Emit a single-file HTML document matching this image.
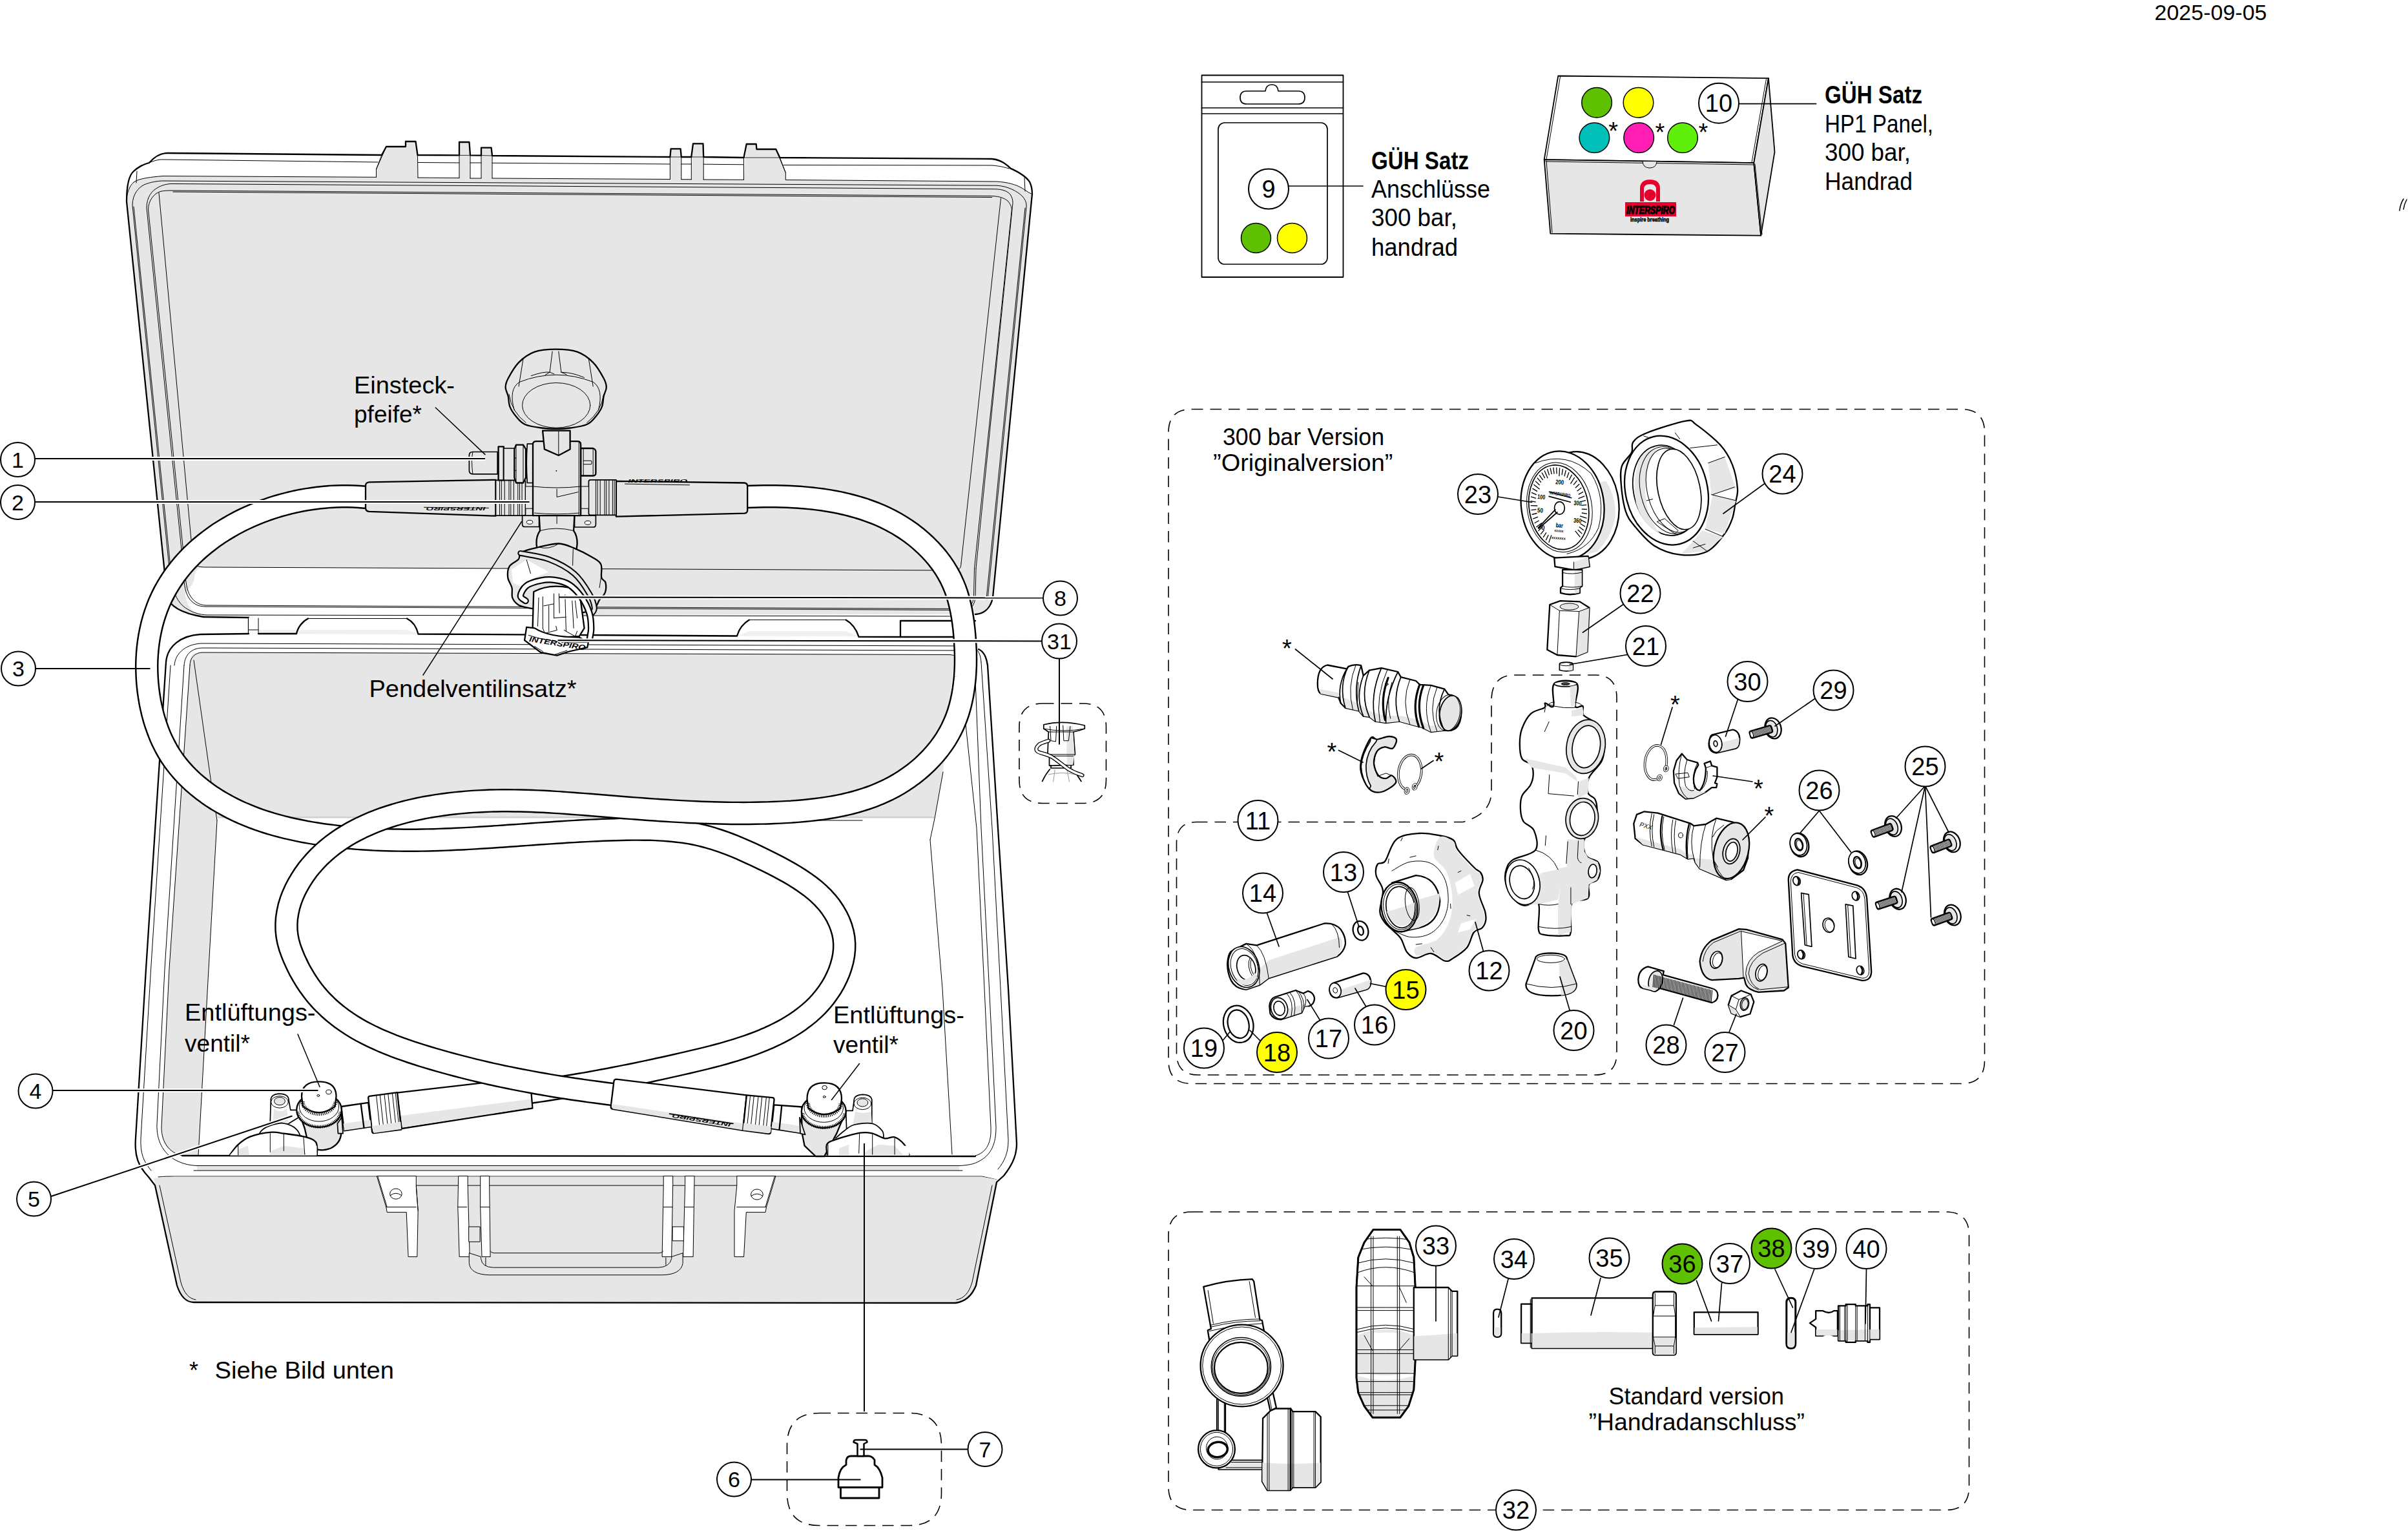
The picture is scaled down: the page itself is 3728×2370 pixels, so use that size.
<!DOCTYPE html>
<html lang="de"><head><meta charset="utf-8"><title>Ersatzteile</title>
<style>
html,body{margin:0;padding:0;background:#fff}
svg{display:block}
text{font-family:"Liberation Sans",sans-serif;fill:#000}
.k{fill:none;stroke:#000;stroke-width:2.3;stroke-linejoin:round;stroke-linecap:round}
.m{fill:none;stroke:#000;stroke-width:1.7;stroke-linejoin:round;stroke-linecap:round}
.t{fill:none;stroke:#000;stroke-width:1;stroke-linejoin:round;stroke-linecap:round}
.g{fill:#e6e6e6}
.w{fill:#fff}
.kg{fill:#e6e6e6;stroke:#000;stroke-width:2.3;stroke-linejoin:round}
.kw{fill:#fff;stroke:#000;stroke-width:2.3;stroke-linejoin:round}
.mg{fill:#e6e6e6;stroke:#000;stroke-width:1.7;stroke-linejoin:round}
.mw{fill:#fff;stroke:#000;stroke-width:1.7;stroke-linejoin:round}
.tg{fill:#e6e6e6;stroke:#000;stroke-width:1;stroke-linejoin:round}
.tw{fill:#fff;stroke:#000;stroke-width:1;stroke-linejoin:round}
.d{fill:none;stroke:#000;stroke-width:1.6;stroke-dasharray:17.5 11}
.lh{fill:none;stroke:#fff;stroke-width:6;stroke-linecap:butt}
.ll{fill:none;stroke:#000;stroke-width:2;stroke-linecap:butt}
.cc{fill:#fff;stroke:#000;stroke-width:2}
.cn{font-size:35px;text-anchor:middle}
</style></head><body>
<svg width="3728" height="2370" viewBox="0 0 3728 2370">
<rect width="3728" height="2370" fill="#fff"/>
<g id="case">
<!-- ===== LID ===== -->
<path class="w" d="M258.6,922 L196,312 C196,290 199,272 207,265 C212,260 222,254 231,252 C238,244 248,237 259,237 L591,240 L598,227 L628,227 L628,219 L643.5,219 L646.5,240 L711,240.4 L711,220 L726.5,220 L728,240.4 L745,240.6 L745,228.7 L760.6,228.7 L762,241 L1037.4,243 L1038.6,230.4 L1053.6,230.4 L1054.8,243 L1070.3,243 L1073,222.4 L1088.5,222.4 L1089.2,243 L1151.5,244 L1155.7,223 L1170.7,223 L1171.4,231 L1201.3,231 L1207.3,244 L1535.8,246 C1548,247 1558,254 1564.4,260.6 C1572,264 1588,272 1594.3,282 C1597,288 1598,294 1598,300 L1537,925 C1534,940 1525,950 1510,951 L1510,961 L385,956 L315,955 C285,950 262,940 258.6,922 Z"/>
<!-- lid gray -->
<path class="g" d="M258.6,922 L196,312 C196,300 200,288 207,282 C215,276 235,274 252,272.5 L582.5,274.3 L582.5,262 L598,227 L628,227 L628,219 L643.5,219 L646.5,240 L647,275 L711,275.5 L711,220 L726.5,220 L728,276 L745,276 L745,228.7 L760.6,228.7 L762,276 L1037.4,277.5 L1038.6,230.4 L1053.6,230.4 L1054.8,277.7 L1070.3,277.8 L1073,222.4 L1088.5,222.4 L1089.2,278 L1151.5,278.3 L1155.7,223 L1170.7,223 L1171.4,231 L1201.3,231 L1216.3,267.3 L1216.3,278.5 L1543.2,281 C1560,282 1573,286 1580,290 C1588,294 1593,299.7 1598,300 L1537,925 C1534,940 1525,950 1510,951 L315,953 C285,950 262,940 258.6,922 Z"/>
<!-- white band bottom-left of lid -->
<path class="w" d="M301,895 C301,882 308,878 318,878 L860,880.5 L860,953 L315,952 C295,948 288,935 287,920 C290,912 300,905 301,895 Z"/>
<path class="w" d="M318,939 L1500,945 L1500,951 L318,953 Z" opacity="0"/>
<!-- lid thin lines -->
<path class="t" d="M231,252 C240,248 246,247 252,247 L585,251 M212,265 L211,283 M582.5,274.3 L582.5,262 L598,227 M591,240 L582.5,262"/>
<path class="t" d="M647,275 L646.5,240 M711,275.5 L711,240 M728,276 L728,240 M745,276 L745,240 M762,276 L762,241 M1037.4,277.5 L1037.4,243 M1054.8,277.7 L1054.8,243 M1070.3,277.8 L1070.3,243 M1089.2,278 L1089.2,243 M1151.5,278.3 L1151.5,244 M1201.3,231 L1216.3,267.3 L1216.3,278.5 M1207.3,244 L1216.3,267.3"/>
<path class="t" d="M646.5,251.5 L711,252 M728,252 L745,252 M762,252.3 L1037.4,254 M1054.8,254 L1070.3,254 M1089.2,254.2 L1151.5,254.8 M1213,255.5 L1535.8,256 C1548,257 1556,259 1562,261 M1586,275 L1587,296"/>
<path class="t" d="M643.5,219 L646.5,240 M711,240.4 L728,240.4 M745,240.6 L762,241 M1037.4,243 L1054.8,243 M1070.3,243 L1089.2,243 M1155.7,223 L1151.5,244 L1207.3,244" opacity=".8"/>
<!-- rim line (gray top boundary) -->
<path class="t" d="M196,312 C196,300 200,288 207,282 C215,276 235,274 252,272.5 L582.5,274.3 M647,275 L711,275.5 M728,276 L745,276 M762,276 L1037.4,277.5 M1054.8,277.7 L1070.3,277.8 M1089.2,278 L1151.5,278.3 M1216.3,278.5 L1543.2,281 C1560,282 1573,286 1580,290 C1588,294 1593,299.7 1598,300"/>
<!-- rim line 2 -->
<path class="t" d="M267,928 L205,318 C205,300 215,290 223,286 C232,282 245,280 252,280 L1543,287.2 C1560,288 1575,296 1583,304 C1588,310 1589.3,314.6 1589,320 L1529,928"/>
<path class="t" d="M269,928 L207,320 M1587,322 L1527,928"/>
<!-- rim line 3 (double) -->
<path class="t" d="M284,880 L227,322 C227,305 235,295 245,290 C250,287 258,284.5 266,284.5 L1540.7,292.7 C1552,293 1560,296 1564,301 C1567,305 1568,310 1568,314 L1511,880"/>
<path class="t" d="M286.5,880 L229.5,324 C230,310 238,300 248,296.5 C254,295 260,294.8 268,295 L1535.8,303.4 C1548,304 1556,307 1561,312 C1565,317 1567,322 1566,328 L1508.5,880"/>
<!-- inner panel edge -->
<path class="t" d="M246,298.5 L299,868 M1549.5,307 L1488,872 M268,297 L1535.8,305.5"/>
<!-- inner panel bottom + band -->
<path class="t" d="M299,868 C300,876 308,878 318,878 L1480,883 C1486,882 1488,878 1488,872"/>
<path class="t" d="M284,880 C284,900 286,915 292,925 C298,934 306,939 318,939 L1496,944.5 C1504,943 1509,935 1510,925 L1511,880"/>
<path class="t" d="M286.5,880 C287,900 289,914 295,923 C300,931 308,936.5 318,937 L1494,942.5 C1502,941 1506,934 1507.5,925 L1508.5,880"/>
<path class="t" d="M267,905 C270,925 280,938 292,944 C300,949 310,951.5 320,952 L1500,954"/>
<!-- lid outline -->
<path class="k" d="M315,955 C285,950 262,940 258.6,922 L196,312 C196,290 199,272 207,265 C212,260 222,254 231,252 C238,244 248,237 259,237 L591,240 L598,227 L628,227 L628,219 L643.5,219 L646.5,240 L711,240.4 L711,220 L726.5,220 L728,240.4 L745,240.6 L745,228.7 L760.6,228.7 L762,241 L1037.4,243 L1038.6,230.4 L1053.6,230.4 L1054.8,243 L1070.3,243 L1073,222.4 L1088.5,222.4 L1089.2,243 L1151.5,244 L1155.7,223 L1170.7,223 L1171.4,231 L1201.3,231 L1207.3,244 L1535.8,246 C1548,247 1558,254 1564.4,260.6 C1572,264 1588,272 1594.3,282 C1597,288 1598,294 1598,300 L1537,925 C1534,940 1525,950 1510,951"/>
<path class="k" d="M315,955 L385,956 L385,981"/>

<!-- ===== BASE ===== -->
<!-- base silhouette white -->
<path class="w" d="M385,981 L310,982 C280,984 259,1000 257,1025 L226,1500 L210,1762 C208,1790 214,1805 230,1822 L240,1835 L274,1990 C280,2008 288,2016 300,2016 L1479,2017 C1495,2015 1505,2005 1511,1990 L1543,1830 L1554,1820 C1570,1800 1574,1785 1574,1770 L1561,1530 L1545,1282 L1529,1030 C1527,1015 1522,1008 1515,1005 L1510,961 L385,956 Z"/>
<!-- hinge zone -->
<path class="g" d="M400,975 L459,975 L459,981 L400,981 Z M477,975 L630,975 L647,981 L1141,984.5 L1160,977 L1309.5,977 L1329,985 L1394,986 L1394,961 L1477,961 L1477,986 L385,981 Z" opacity=".6"/>
<path class="w" d="M1394,961 L1477,961 L1477,986 L1394,986 Z"/>
<path class="t" d="M400,957 L400,981 M385,975 L400,975"/>
<path class="k" d="M400,981 L459,981 C461,971 468,962 477,957.5 M630,957.5 C639,962 645,971 647.5,981.5 L1141,984.5 C1144,974 1151,965 1160,959.6 M1309.5,959.6 C1319,965 1326,975 1329.5,985.8 L1394,986 L1394,961 L1510,961 M1394,986 L1477,986"/>
<path class="t" d="M477,957.5 L630,957.5 M1160,959.6 L1309.5,959.6"/>
<!-- back wall gray -->
<path class="g" d="M300,1022 C300,1014 306,1010 314,1010 L1470,1013.5 C1475,1013.5 1477,1016 1477,1021 L1460,1195 L1447,1267 L336,1267 L327,1212 Z"/>
<!-- left wall gray -->
<path class="g" d="M294,1024 C294,1016 298,1012 304,1011 L300,1022 L327,1212 L336,1270 L323,1500 L307,1789 L282,1789 C262,1785 250,1770 250,1750 L262,1500 Z"/>
<!-- floor/back edge line -->
<path d="M338,1265 L1446,1265" stroke="#c8c8c8" stroke-width="1.5" fill="none"/>
<path class="t" d="M300,1022 L327,1212 L336,1270 M1460,1195 L1447,1267 L1440,1300 M1335,1270 L1100,1270"/>
<!-- base rim thin lines (back) -->
<path class="t" d="M270,1030 C271,1010 290,996 314,996 L1500,1000 C1512,1001 1518,1010 1519,1025"/>
<path class="t" d="M285,1030 C286,1014 296,1003 314,1003 L1490,1007 C1502,1008 1508,1014 1509,1026"/>
<path class="t" d="M294,1030 C294,1018 302,1010 314,1010 L1470,1013.5 C1480,1014 1484,1018 1485,1026"/>
<!-- left wall lines -->
<path class="t" d="M264,1030 L233.6,1500 L218,1762 C217,1785 222,1798 234,1812"/>
<path class="t" d="M285,1030 L255,1500 L243,1740 C242,1765 252,1785 272,1796 C280,1800 290,1804 305,1804.5"/>
<path class="t" d="M294,1030 L262,1500 L250,1745 C250,1768 262,1785 282,1789"/>
<path class="t" d="M336,1270 L323,1500 L307,1789"/>
<!-- right wall lines -->
<path class="t" d="M1519,1025 L1536,1282 L1549,1530 L1561,1765 C1561,1785 1555,1798 1545,1810"/>
<path class="t" d="M1509,1026 L1519,1282 L1531.5,1530 L1542,1745 C1542,1770 1535,1788 1515,1798 C1508,1802 1498,1804 1485,1804.5"/>
<path class="t" d="M1485,1026 L1512,1282 L1524,1530 L1534,1745 C1535,1768 1528,1784 1510,1789"/>
<path class="t" d="M1440,1300 L1459,1530 L1474,1787"/>
<!-- front rim -->
<path class="g" d="M305,1804.5 L1485,1804.5 L1485,1812 L305,1812 Z"/>
<path class="t" d="M305,1804.5 L1485,1804.5 M300,1812 L1490,1812 M245,1822 C255,1821 260,1821 270,1821 L1520,1821 L1543,1826"/>
<!-- front face gray -->
<path class="g" d="M238,1824 L270,1821.5 L1520,1821.5 L1545,1826 L1511,1990 C1505,2005 1495,2015 1479,2017 L300,2016 C288,2016 280,2008 274,1990 Z"/>
<path class="t" d="M247,1835 L280,1985 C285,2002 292,2010 303,2012 M1536,1835 L1505,1985 C1500,2002 1492,2010 1481,2012"/>
<!-- front rim thick (inner opening bottom edge) -->
<path class="k" d="M282,1789 L1510,1790"/>
<!-- base outline thick -->
<path class="k" d="M385,981 L310,982 C280,984 259,1000 257,1025 L226,1500 L210,1762 C208,1790 214,1805 230,1822 L240,1835 L274,1990 C280,2008 288,2016 300,2016 L1479,2017 C1495,2015 1505,2005 1511,1990 L1543,1830 L1554,1820 C1570,1800 1574,1785 1574,1770 L1561,1530 L1545,1282 L1529,1030 C1527,1015 1522,1008 1515,1005"/>
</g>
<g id="front">
<path class="tw" d="M 583.3,1820.5 L 597.8,1868.5 L 599.2,1876.6 L 629.2,1876.6 L 632.1,1945.5 L 645.8,1945.5 L 647.2,1874.3 L 644.3,1835.1 L 644.3,1820.5 Z" />
<path class="t" d="M 597.8,1868.5 L 644.3,1868.5 M 584.7,1820.5 L 599.2,1868.5 M 644.3,1835.1 L 709.7,1835.1 M 647.2,1874.3 L 644.3,1836.5" />
<ellipse class="tw" cx="612.9" cy="1848.1" rx="9.3" ry="8.1" />
<path class="t" d="M 604.2,1850.5 Q 612.9,1843.8 621.6,1850.5" />
<path class="tw" d="M 709.7,1820.5 L 724.2,1820.5 L 724.2,1833.6 L 727.2,1945.5 L 711.2,1945.5 L 708.8,1868.5 Z" />
<path class="tw" d="M 743.7,1820.5 L 757.7,1820.5 L 757.7,1835.1 L 759.1,1945.5 L 746.0,1945.5 L 743.7,1868.5 Z" />
<path class="t" d="M 724.2,1835.1 L 743.7,1835.1 M 708.8,1868.5 L 722.8,1868.5 M 743.7,1868.5 L 757.7,1868.5 M 757.7,1835.1 L 1027.2,1835.1 M 1041.7,1835.1 L 1060.6,1835.1 M 1075.1,1835.1 L 1140.8,1835.1" />
<path class="tw" d="M 1027.2,1820.5 L 1041.7,1820.5 L 1041.7,1833.6 L 1039.7,1945.5 L 1025.1,1945.5 L 1027.2,1835.1 Z" />
<path class="tw" d="M 1060.6,1820.5 L 1075.1,1820.5 L 1073.1,1945.5 L 1057.7,1945.5 L 1060.6,1833.6 Z" />
<path class="tw" d="M 1140.8,1820.5 L 1201.0,1820.5 L 1186.5,1868.5 L 1185.0,1876.6 L 1155.3,1876.6 L 1151.6,1945.5 L 1137.0,1945.5 L 1137.0,1874.3 L 1140.8,1835.1 Z" />
<path class="t" d="M 1140.8,1868.5 L 1186.5,1868.5 M 1199.5,1820.5 L 1185.0,1868.5 M 1027.2,1868.5 L 1041.1,1868.5 M 1060.6,1868.5 L 1074.5,1868.5" />
<ellipse class="tw" cx="1171.9" cy="1849.0" rx="9.3" ry="8.1" />
<path class="t" d="M 1163.2,1851.3 Q 1171.9,1844.7 1180.6,1851.3" />
<path class="tg" d="M 726.3,1939.7 L 726.3,1955.7 Q 728.6,1973.1 757.7,1973.7 L 1025.1,1973.7 Q 1054.2,1973.1 1057.1,1955.7 L 1057.1,1939.7 L 1039.7,1945.5 L 1039.7,1948.4 Q 1036.7,1961.5 1019.3,1962.1 L 763.5,1962.1 Q 746.0,1961.5 744.6,1948.4 L 744.6,1945.5 Z" />
<path class="t" d="M 759.1,1936.8 Q 760.6,1939.7 764.9,1939.7 L 1020.8,1939.7 Q 1025.1,1939.7 1026.6,1936.8 M 751.9,1947.0 L 751.9,1958.6 M 1030.9,1947.0 L 1030.9,1958.0" />
<path class="tg" d="M 725.7,1899.0 L 743.1,1899.0 L 743.1,1922.3 L 725.7,1922.3 Z" />
<path class="tw" d="M 1041.1,1899.0 L 1058.5,1899.0 L 1058.5,1920.8 L 1041.1,1920.8 Z" />
</g>
<g id="hoses">
<path d="M575.0,769.0 L565.0,769.8 L556.2,769.0 L547.3,768.5 L538.4,768.3 L529.4,768.3 L520.4,768.5 L511.3,768.9 L502.3,769.7 L493.2,770.6 L484.1,771.8 L475.0,773.2 L465.9,774.8 L456.8,776.7 L447.8,778.8 L438.9,781.1 L429.9,783.6 L421.1,786.4 L412.3,789.4 L403.6,792.6 L395.0,796.1 L386.5,799.7 L378.2,803.6 L369.9,807.7 L361.8,812.0 L353.8,816.6 L346.0,821.3 L338.3,826.2 L330.9,831.4 L323.6,836.8 L316.5,842.4 L309.6,848.1 L302.9,854.1 L296.4,860.3 L290.2,866.7 L284.2,873.3 L278.5,880.1 L273.1,887.1 L267.9,894.3 L263.0,901.7 L258.4,909.3 L254.1,917.0 L250.1,925.0 L246.4,933.1 L243.1,941.5 L240.1,950.0 L237.4,958.6 L235.0,967.4 L233.0,976.3 L231.2,985.4 L229.8,994.5 L228.7,1003.6 L227.9,1012.9 L227.4,1022.2 L227.2,1031.5 L227.4,1040.8 L227.8,1050.1 L228.5,1059.3 L229.5,1068.6 L230.8,1077.8 L232.3,1086.9 L234.2,1095.9 L236.3,1104.8 L238.7,1113.6 L241.5,1122.3 L244.5,1130.8 L247.8,1139.2 L251.5,1147.4 L255.5,1155.4 L259.8,1163.2 L264.5,1170.8 L269.6,1178.2 L275.0,1185.3 L280.7,1192.1 L286.8,1198.8 L293.1,1205.2 L299.7,1211.3 L306.6,1217.2 L313.7,1222.8 L320.9,1228.2 L328.4,1233.4 L336.0,1238.3 L343.8,1242.9 L351.7,1247.3 L359.7,1251.5 L367.9,1255.4 L376.1,1259.2 L384.5,1262.7 L392.9,1266.0 L401.5,1269.1 L410.1,1272.0 L418.8,1274.7 L427.6,1277.2 L436.4,1279.6 L445.3,1281.8 L454.3,1283.8 L463.2,1285.7 L472.2,1287.5 L481.3,1289.1 L490.3,1290.6 L499.4,1292.0 L508.4,1293.2 L517.5,1294.3 L526.5,1295.4 L535.5,1296.3 L544.6,1297.1 L553.6,1297.9 L562.7,1298.5 L571.7,1299.1 L580.7,1299.6 L589.8,1299.9 L598.8,1300.2 L607.8,1300.5 L616.9,1300.6 L625.9,1300.7 L634.9,1300.7 L644.0,1300.7 L653.0,1300.6 L662.0,1300.4 L671.0,1300.2 L680.1,1299.9 L689.1,1299.6 L698.1,1299.2 L707.2,1298.8 L716.2,1298.4 L725.2,1297.9 L734.3,1297.4 L743.3,1296.8 L752.3,1296.3 L761.4,1295.7 L770.4,1295.1 L779.5,1294.5 L788.5,1293.8 L797.6,1293.2 L806.6,1292.6 L815.7,1291.9 L824.7,1291.3 L833.8,1290.6 L842.8,1290.0 L851.9,1289.4 L861.0,1288.8 L870.0,1288.2 L879.1,1287.6 L888.2,1287.1 L897.3,1286.5 L906.3,1286.1 L915.4,1285.6 L924.5,1285.2 L933.6,1284.8 L942.7,1284.5 L951.8,1284.2 L960.9,1283.9 L970.1,1283.8 L979.2,1283.6 L988.3,1283.6 L997.4,1283.7 L1006.5,1283.8 L1015.5,1284.1 L1024.6,1284.6 L1033.6,1285.2 L1042.5,1286.0 L1051.4,1287.0 L1060.3,1288.2 L1069.1,1289.6 L1077.8,1291.3 L1086.5,1293.3 L1095.0,1295.5 L1103.6,1298.0 L1112.0,1300.7 L1120.5,1303.6 L1128.9,1306.7 L1137.3,1310.0 L1145.6,1313.5 L1154.0,1317.2 L1162.4,1321.0 L1170.8,1324.9 L1179.3,1329.0 L1187.8,1333.2 L1196.3,1337.4 L1204.8,1341.8 L1213.3,1346.4 L1221.7,1351.0 L1230.0,1355.9 L1238.1,1361.0 L1246.0,1366.3 L1253.7,1371.8 L1261.0,1377.6 L1267.9,1383.7 L1274.4,1390.1 L1280.5,1396.8 L1286.1,1403.9 L1291.1,1411.4 L1295.6,1419.1 L1299.4,1427.1 L1302.5,1435.3 L1304.9,1443.7 L1306.5,1452.2 L1307.2,1460.9 L1307.1,1469.6 L1306.2,1478.4 L1304.5,1487.2 L1302.1,1495.9 L1299.2,1504.4 L1295.6,1512.7 L1291.6,1520.8 L1287.1,1528.6 L1282.2,1536.0 L1277.0,1543.1 L1271.4,1549.9 L1265.5,1556.4 L1259.3,1562.5 L1252.7,1568.4 L1245.9,1573.9 L1238.8,1579.2 L1231.5,1584.3 L1223.9,1589.0 L1216.1,1593.6 L1208.1,1597.9 L1199.9,1602.0 L1191.5,1605.9 L1183.0,1609.6 L1174.3,1613.1 L1165.6,1616.4 L1156.6,1619.6 L1147.6,1622.6 L1138.6,1625.5 L1129.4,1628.2 L1120.2,1630.9 L1111.0,1633.4 L1101.8,1635.8 L1092.6,1638.1 L1083.4,1640.4 L1074.2,1642.5 L1065.1,1644.7 L1056.0,1646.7 L1047.1,1648.8 L1038.1,1650.8 L1029.3,1652.8 L1020.5,1654.7 L1011.7,1656.6 L1003.0,1658.5 L994.4,1660.3 L985.7,1662.1 L977.1,1663.9 L968.4,1665.6 L959.8,1667.3 L951.2,1669.0 L942.5,1670.7 L933.9,1672.3 L925.2,1673.9 L916.4,1675.5 L907.6,1677.1 L898.8,1678.6 L889.9,1680.1 L881.0,1681.6 L872.0,1683.1 L862.8,1684.6 L853.6,1686.0 L844.4,1687.4 L835.0,1688.8 L825.5,1690.2 L800.0,1694.0" fill="none" stroke="#000" stroke-width="36.5" stroke-linecap="butt" stroke-linejoin="round"/>
<path d="M575.0,769.0 L565.0,769.8 L556.2,769.0 L547.3,768.5 L538.4,768.3 L529.4,768.3 L520.4,768.5 L511.3,768.9 L502.3,769.7 L493.2,770.6 L484.1,771.8 L475.0,773.2 L465.9,774.8 L456.8,776.7 L447.8,778.8 L438.9,781.1 L429.9,783.6 L421.1,786.4 L412.3,789.4 L403.6,792.6 L395.0,796.1 L386.5,799.7 L378.2,803.6 L369.9,807.7 L361.8,812.0 L353.8,816.6 L346.0,821.3 L338.3,826.2 L330.9,831.4 L323.6,836.8 L316.5,842.4 L309.6,848.1 L302.9,854.1 L296.4,860.3 L290.2,866.7 L284.2,873.3 L278.5,880.1 L273.1,887.1 L267.9,894.3 L263.0,901.7 L258.4,909.3 L254.1,917.0 L250.1,925.0 L246.4,933.1 L243.1,941.5 L240.1,950.0 L237.4,958.6 L235.0,967.4 L233.0,976.3 L231.2,985.4 L229.8,994.5 L228.7,1003.6 L227.9,1012.9 L227.4,1022.2 L227.2,1031.5 L227.4,1040.8 L227.8,1050.1 L228.5,1059.3 L229.5,1068.6 L230.8,1077.8 L232.3,1086.9 L234.2,1095.9 L236.3,1104.8 L238.7,1113.6 L241.5,1122.3 L244.5,1130.8 L247.8,1139.2 L251.5,1147.4 L255.5,1155.4 L259.8,1163.2 L264.5,1170.8 L269.6,1178.2 L275.0,1185.3 L280.7,1192.1 L286.8,1198.8 L293.1,1205.2 L299.7,1211.3 L306.6,1217.2 L313.7,1222.8 L320.9,1228.2 L328.4,1233.4 L336.0,1238.3 L343.8,1242.9 L351.7,1247.3 L359.7,1251.5 L367.9,1255.4 L376.1,1259.2 L384.5,1262.7 L392.9,1266.0 L401.5,1269.1 L410.1,1272.0 L418.8,1274.7 L427.6,1277.2 L436.4,1279.6 L445.3,1281.8 L454.3,1283.8 L463.2,1285.7 L472.2,1287.5 L481.3,1289.1 L490.3,1290.6 L499.4,1292.0 L508.4,1293.2 L517.5,1294.3 L526.5,1295.4 L535.5,1296.3 L544.6,1297.1 L553.6,1297.9 L562.7,1298.5 L571.7,1299.1 L580.7,1299.6 L589.8,1299.9 L598.8,1300.2 L607.8,1300.5 L616.9,1300.6 L625.9,1300.7 L634.9,1300.7 L644.0,1300.7 L653.0,1300.6 L662.0,1300.4 L671.0,1300.2 L680.1,1299.9 L689.1,1299.6 L698.1,1299.2 L707.2,1298.8 L716.2,1298.4 L725.2,1297.9 L734.3,1297.4 L743.3,1296.8 L752.3,1296.3 L761.4,1295.7 L770.4,1295.1 L779.5,1294.5 L788.5,1293.8 L797.6,1293.2 L806.6,1292.6 L815.7,1291.9 L824.7,1291.3 L833.8,1290.6 L842.8,1290.0 L851.9,1289.4 L861.0,1288.8 L870.0,1288.2 L879.1,1287.6 L888.2,1287.1 L897.3,1286.5 L906.3,1286.1 L915.4,1285.6 L924.5,1285.2 L933.6,1284.8 L942.7,1284.5 L951.8,1284.2 L960.9,1283.9 L970.1,1283.8 L979.2,1283.6 L988.3,1283.6 L997.4,1283.7 L1006.5,1283.8 L1015.5,1284.1 L1024.6,1284.6 L1033.6,1285.2 L1042.5,1286.0 L1051.4,1287.0 L1060.3,1288.2 L1069.1,1289.6 L1077.8,1291.3 L1086.5,1293.3 L1095.0,1295.5 L1103.6,1298.0 L1112.0,1300.7 L1120.5,1303.6 L1128.9,1306.7 L1137.3,1310.0 L1145.6,1313.5 L1154.0,1317.2 L1162.4,1321.0 L1170.8,1324.9 L1179.3,1329.0 L1187.8,1333.2 L1196.3,1337.4 L1204.8,1341.8 L1213.3,1346.4 L1221.7,1351.0 L1230.0,1355.9 L1238.1,1361.0 L1246.0,1366.3 L1253.7,1371.8 L1261.0,1377.6 L1267.9,1383.7 L1274.4,1390.1 L1280.5,1396.8 L1286.1,1403.9 L1291.1,1411.4 L1295.6,1419.1 L1299.4,1427.1 L1302.5,1435.3 L1304.9,1443.7 L1306.5,1452.2 L1307.2,1460.9 L1307.1,1469.6 L1306.2,1478.4 L1304.5,1487.2 L1302.1,1495.9 L1299.2,1504.4 L1295.6,1512.7 L1291.6,1520.8 L1287.1,1528.6 L1282.2,1536.0 L1277.0,1543.1 L1271.4,1549.9 L1265.5,1556.4 L1259.3,1562.5 L1252.7,1568.4 L1245.9,1573.9 L1238.8,1579.2 L1231.5,1584.3 L1223.9,1589.0 L1216.1,1593.6 L1208.1,1597.9 L1199.9,1602.0 L1191.5,1605.9 L1183.0,1609.6 L1174.3,1613.1 L1165.6,1616.4 L1156.6,1619.6 L1147.6,1622.6 L1138.6,1625.5 L1129.4,1628.2 L1120.2,1630.9 L1111.0,1633.4 L1101.8,1635.8 L1092.6,1638.1 L1083.4,1640.4 L1074.2,1642.5 L1065.1,1644.7 L1056.0,1646.7 L1047.1,1648.8 L1038.1,1650.8 L1029.3,1652.8 L1020.5,1654.7 L1011.7,1656.6 L1003.0,1658.5 L994.4,1660.3 L985.7,1662.1 L977.1,1663.9 L968.4,1665.6 L959.8,1667.3 L951.2,1669.0 L942.5,1670.7 L933.9,1672.3 L925.2,1673.9 L916.4,1675.5 L907.6,1677.1 L898.8,1678.6 L889.9,1680.1 L881.0,1681.6 L872.0,1683.1 L862.8,1684.6 L853.6,1686.0 L844.4,1687.4 L835.0,1688.8 L825.5,1690.2 L800.0,1694.0" fill="none" stroke="#fff" stroke-width="31.6" stroke-linecap="butt" stroke-linejoin="round"/>
<path class="kw" d="M614.3,1691.6 L820.6,1667.8 L824.4,1715.5 L622,1747 Z"/><path class="g" d="M621,1727 L821.4,1701.5 L823.4,1714 L623,1745.5 Z"/>
<path d="M1145.0,769.0 L1155.5,769.0 L1164.4,768.7 L1173.3,768.5 L1182.3,768.3 L1191.4,768.3 L1200.5,768.3 L1209.7,768.5 L1218.9,768.8 L1228.1,769.3 L1237.4,769.8 L1246.6,770.6 L1255.9,771.4 L1265.1,772.5 L1274.4,773.7 L1283.6,775.2 L1292.7,776.8 L1301.8,778.6 L1310.9,780.7 L1319.8,783.0 L1328.7,785.5 L1337.5,788.2 L1346.2,791.3 L1354.9,794.5 L1363.3,798.1 L1371.7,801.9 L1379.9,806.1 L1388.0,810.5 L1395.9,815.3 L1403.7,820.3 L1411.3,825.7 L1418.7,831.4 L1425.8,837.5 L1432.7,843.8 L1439.4,850.4 L1445.7,857.3 L1451.7,864.4 L1457.3,871.8 L1462.5,879.3 L1467.2,887.1 L1471.6,895.1 L1475.4,903.3 L1478.8,911.6 L1481.8,920.1 L1484.3,928.7 L1486.5,937.5 L1488.4,946.4 L1490.0,955.4 L1491.3,964.4 L1492.4,973.6 L1493.3,982.9 L1494.0,992.2 L1494.5,1001.6 L1494.9,1011.0 L1495.0,1020.4 L1494.9,1029.8 L1494.5,1039.2 L1493.9,1048.6 L1492.9,1057.9 L1491.7,1067.1 L1490.2,1076.3 L1488.3,1085.3 L1486.1,1094.2 L1483.5,1103.0 L1480.5,1111.6 L1477.0,1120.0 L1473.2,1128.2 L1468.9,1136.3 L1464.3,1144.1 L1459.2,1151.7 L1453.8,1159.0 L1448.0,1166.1 L1441.9,1172.9 L1435.5,1179.5 L1428.8,1185.9 L1421.9,1191.9 L1414.7,1197.7 L1407.3,1203.1 L1399.7,1208.3 L1392.0,1213.2 L1384.1,1217.7 L1376.0,1221.9 L1367.8,1225.8 L1359.5,1229.4 L1351.1,1232.8 L1342.6,1235.8 L1334.0,1238.6 L1325.3,1241.2 L1316.5,1243.5 L1307.6,1245.6 L1298.6,1247.5 L1289.6,1249.2 L1280.5,1250.7 L1271.4,1252.0 L1262.2,1253.2 L1253.0,1254.2 L1243.8,1255.1 L1234.5,1255.9 L1225.3,1256.6 L1216.0,1257.1 L1206.7,1257.6 L1197.4,1258.0 L1188.1,1258.4 L1178.8,1258.6 L1169.6,1258.8 L1160.3,1258.9 L1151.0,1259.0 L1141.8,1258.9 L1132.5,1258.9 L1123.2,1258.7 L1114.0,1258.5 L1104.7,1258.3 L1095.5,1258.0 L1086.3,1257.7 L1077.0,1257.3 L1067.8,1256.9 L1058.6,1256.4 L1049.4,1255.9 L1040.2,1255.4 L1031.0,1254.8 L1021.9,1254.2 L1012.7,1253.6 L1003.6,1253.0 L994.4,1252.3 L985.3,1251.6 L976.2,1250.9 L967.1,1250.2 L958.0,1249.5 L948.9,1248.7 L939.9,1248.0 L930.8,1247.3 L921.8,1246.5 L912.8,1245.8 L903.8,1245.1 L894.8,1244.4 L885.8,1243.7 L876.8,1243.1 L867.9,1242.4 L858.9,1241.9 L849.9,1241.3 L840.9,1240.8 L831.9,1240.4 L822.9,1240.0 L813.9,1239.7 L804.9,1239.5 L795.9,1239.4 L786.8,1239.3 L777.7,1239.3 L768.7,1239.4 L759.5,1239.6 L750.4,1240.0 L741.2,1240.4 L732.0,1240.9 L722.8,1241.6 L713.5,1242.4 L704.2,1243.3 L694.9,1244.4 L685.6,1245.6 L676.2,1247.0 L666.9,1248.5 L657.6,1250.1 L648.3,1252.0 L639.1,1254.0 L629.9,1256.2 L620.8,1258.6 L611.7,1261.2 L602.8,1264.0 L593.9,1266.9 L585.2,1270.1 L576.6,1273.5 L568.1,1277.2 L559.8,1281.0 L551.6,1285.1 L543.6,1289.4 L535.8,1294.0 L528.2,1298.8 L520.8,1303.9 L513.7,1309.2 L506.7,1314.8 L500.0,1320.7 L493.5,1326.9 L487.4,1333.3 L481.5,1340.1 L475.8,1347.1 L470.5,1354.5 L465.6,1362.1 L461.0,1370.0 L456.8,1378.1 L453.1,1386.4 L449.9,1394.9 L447.3,1403.6 L445.4,1412.4 L444.0,1421.3 L443.4,1430.2 L443.5,1439.2 L444.4,1448.3 L446.1,1457.3 L448.6,1466.3 L451.8,1475.2 L455.4,1484.0 L459.4,1492.7 L463.6,1501.2 L468.3,1509.5 L473.2,1517.6 L478.4,1525.5 L483.9,1533.0 L489.7,1540.3 L495.7,1547.2 L502.0,1553.7 L508.5,1560.0 L515.3,1566.0 L522.3,1571.7 L529.4,1577.1 L536.8,1582.3 L544.3,1587.2 L552.0,1591.9 L559.9,1596.4 L567.9,1600.6 L576.1,1604.7 L584.4,1608.5 L592.7,1612.2 L601.2,1615.7 L609.8,1619.1 L618.5,1622.3 L627.2,1625.4 L635.9,1628.4 L644.8,1631.3 L653.6,1634.1 L662.5,1636.8 L671.3,1639.4 L680.2,1642.0 L689.1,1644.5 L698.0,1646.9 L706.9,1649.3 L715.8,1651.6 L724.7,1653.9 L733.6,1656.1 L742.5,1658.2 L751.5,1660.3 L760.4,1662.4 L769.3,1664.3 L778.3,1666.3 L787.2,1668.1 L796.2,1669.9 L805.2,1671.7 L814.2,1673.4 L823.1,1675.1 L832.1,1676.7 L841.1,1678.3 L850.2,1679.9 L859.2,1681.4 L868.2,1682.8 L877.3,1684.2 L886.3,1685.6 L895.4,1686.9 L904.5,1688.2 L913.5,1689.5 L922.6,1690.7 L931.7,1691.9 L940.9,1693.1 L950.0,1694.2 L990.0,1700.0" fill="none" stroke="#000" stroke-width="36.5" stroke-linecap="butt" stroke-linejoin="round"/>
<path d="M1145.0,769.0 L1155.5,769.0 L1164.4,768.7 L1173.3,768.5 L1182.3,768.3 L1191.4,768.3 L1200.5,768.3 L1209.7,768.5 L1218.9,768.8 L1228.1,769.3 L1237.4,769.8 L1246.6,770.6 L1255.9,771.4 L1265.1,772.5 L1274.4,773.7 L1283.6,775.2 L1292.7,776.8 L1301.8,778.6 L1310.9,780.7 L1319.8,783.0 L1328.7,785.5 L1337.5,788.2 L1346.2,791.3 L1354.9,794.5 L1363.3,798.1 L1371.7,801.9 L1379.9,806.1 L1388.0,810.5 L1395.9,815.3 L1403.7,820.3 L1411.3,825.7 L1418.7,831.4 L1425.8,837.5 L1432.7,843.8 L1439.4,850.4 L1445.7,857.3 L1451.7,864.4 L1457.3,871.8 L1462.5,879.3 L1467.2,887.1 L1471.6,895.1 L1475.4,903.3 L1478.8,911.6 L1481.8,920.1 L1484.3,928.7 L1486.5,937.5 L1488.4,946.4 L1490.0,955.4 L1491.3,964.4 L1492.4,973.6 L1493.3,982.9 L1494.0,992.2 L1494.5,1001.6 L1494.9,1011.0 L1495.0,1020.4 L1494.9,1029.8 L1494.5,1039.2 L1493.9,1048.6 L1492.9,1057.9 L1491.7,1067.1 L1490.2,1076.3 L1488.3,1085.3 L1486.1,1094.2 L1483.5,1103.0 L1480.5,1111.6 L1477.0,1120.0 L1473.2,1128.2 L1468.9,1136.3 L1464.3,1144.1 L1459.2,1151.7 L1453.8,1159.0 L1448.0,1166.1 L1441.9,1172.9 L1435.5,1179.5 L1428.8,1185.9 L1421.9,1191.9 L1414.7,1197.7 L1407.3,1203.1 L1399.7,1208.3 L1392.0,1213.2 L1384.1,1217.7 L1376.0,1221.9 L1367.8,1225.8 L1359.5,1229.4 L1351.1,1232.8 L1342.6,1235.8 L1334.0,1238.6 L1325.3,1241.2 L1316.5,1243.5 L1307.6,1245.6 L1298.6,1247.5 L1289.6,1249.2 L1280.5,1250.7 L1271.4,1252.0 L1262.2,1253.2 L1253.0,1254.2 L1243.8,1255.1 L1234.5,1255.9 L1225.3,1256.6 L1216.0,1257.1 L1206.7,1257.6 L1197.4,1258.0 L1188.1,1258.4 L1178.8,1258.6 L1169.6,1258.8 L1160.3,1258.9 L1151.0,1259.0 L1141.8,1258.9 L1132.5,1258.9 L1123.2,1258.7 L1114.0,1258.5 L1104.7,1258.3 L1095.5,1258.0 L1086.3,1257.7 L1077.0,1257.3 L1067.8,1256.9 L1058.6,1256.4 L1049.4,1255.9 L1040.2,1255.4 L1031.0,1254.8 L1021.9,1254.2 L1012.7,1253.6 L1003.6,1253.0 L994.4,1252.3 L985.3,1251.6 L976.2,1250.9 L967.1,1250.2 L958.0,1249.5 L948.9,1248.7 L939.9,1248.0 L930.8,1247.3 L921.8,1246.5 L912.8,1245.8 L903.8,1245.1 L894.8,1244.4 L885.8,1243.7 L876.8,1243.1 L867.9,1242.4 L858.9,1241.9 L849.9,1241.3 L840.9,1240.8 L831.9,1240.4 L822.9,1240.0 L813.9,1239.7 L804.9,1239.5 L795.9,1239.4 L786.8,1239.3 L777.7,1239.3 L768.7,1239.4 L759.5,1239.6 L750.4,1240.0 L741.2,1240.4 L732.0,1240.9 L722.8,1241.6 L713.5,1242.4 L704.2,1243.3 L694.9,1244.4 L685.6,1245.6 L676.2,1247.0 L666.9,1248.5 L657.6,1250.1 L648.3,1252.0 L639.1,1254.0 L629.9,1256.2 L620.8,1258.6 L611.7,1261.2 L602.8,1264.0 L593.9,1266.9 L585.2,1270.1 L576.6,1273.5 L568.1,1277.2 L559.8,1281.0 L551.6,1285.1 L543.6,1289.4 L535.8,1294.0 L528.2,1298.8 L520.8,1303.9 L513.7,1309.2 L506.7,1314.8 L500.0,1320.7 L493.5,1326.9 L487.4,1333.3 L481.5,1340.1 L475.8,1347.1 L470.5,1354.5 L465.6,1362.1 L461.0,1370.0 L456.8,1378.1 L453.1,1386.4 L449.9,1394.9 L447.3,1403.6 L445.4,1412.4 L444.0,1421.3 L443.4,1430.2 L443.5,1439.2 L444.4,1448.3 L446.1,1457.3 L448.6,1466.3 L451.8,1475.2 L455.4,1484.0 L459.4,1492.7 L463.6,1501.2 L468.3,1509.5 L473.2,1517.6 L478.4,1525.5 L483.9,1533.0 L489.7,1540.3 L495.7,1547.2 L502.0,1553.7 L508.5,1560.0 L515.3,1566.0 L522.3,1571.7 L529.4,1577.1 L536.8,1582.3 L544.3,1587.2 L552.0,1591.9 L559.9,1596.4 L567.9,1600.6 L576.1,1604.7 L584.4,1608.5 L592.7,1612.2 L601.2,1615.7 L609.8,1619.1 L618.5,1622.3 L627.2,1625.4 L635.9,1628.4 L644.8,1631.3 L653.6,1634.1 L662.5,1636.8 L671.3,1639.4 L680.2,1642.0 L689.1,1644.5 L698.0,1646.9 L706.9,1649.3 L715.8,1651.6 L724.7,1653.9 L733.6,1656.1 L742.5,1658.2 L751.5,1660.3 L760.4,1662.4 L769.3,1664.3 L778.3,1666.3 L787.2,1668.1 L796.2,1669.9 L805.2,1671.7 L814.2,1673.4 L823.1,1675.1 L832.1,1676.7 L841.1,1678.3 L850.2,1679.9 L859.2,1681.4 L868.2,1682.8 L877.3,1684.2 L886.3,1685.6 L895.4,1686.9 L904.5,1688.2 L913.5,1689.5 L922.6,1690.7 L931.7,1691.9 L940.9,1693.1 L950.0,1694.2 L990.0,1700.0" fill="none" stroke="#fff" stroke-width="31.6" stroke-linecap="butt" stroke-linejoin="round"/>
</g>
<g id="valves">
<path class="kg" d="M 571.5,746.4 L 767.5,742.8 L 767.5,798.7 L 571.5,791.9 Q 566.0,791.3 566.0,785.9 L 566.0,751.9 Q 566.0,746.9 571.5,746.4 Z" />
<path class="mg" d="M 767.5,743.4 L 811.3,743.4 Q 813.5,743.4 813.5,746.1 L 813.5,795.5 Q 813.5,798.2 811.3,798.2 L 767.5,798.2 Z" />
<path class="t" d="M 773.5,743.9 L 773.5,797.6 M 776.3,743.9 L 776.3,797.6 M 781.2,743.9 L 781.2,797.6 M 788.0,743.9 L 788.0,797.6 M 790.8,743.9 L 790.8,797.6 M 795.4,743.9 L 795.4,797.6 M 801.8,743.9 L 801.8,797.6 M 804.5,743.9 L 804.5,797.6 M 808.1,743.9 L 808.1,797.6" />
<path class="kg" d="M 953.9,744.8 L 1152.6,747.5 Q 1157.2,748.0 1157.2,753.0 L 1157.2,790.0 Q 1157.2,794.1 1152.6,794.6 L 953.9,799.6 Z" />
<path class="mg" d="M 914.1,742.8 L 953.9,742.8 L 953.9,797.4 L 914.1,797.4 Q 911.4,797.4 911.4,794.6 L 911.4,745.6 Q 911.4,742.8 914.1,742.8 Z" />
<path class="t" d="M 922.4,743.4 L 922.4,796.8 M 925.1,743.4 L 925.1,796.8 M 929.2,743.4 L 929.2,796.8 M 936.1,743.4 L 936.1,796.8 M 938.8,743.4 L 938.8,796.8 M 942.9,743.4 L 942.9,796.8 M 948.4,743.4 L 948.4,796.8 M 951.1,743.4 L 951.1,796.8" />
<text x="1018.3" y="746.9" font-size="8" font-weight="bold" font-style="italic" text-anchor="middle" textLength="92" lengthAdjust="spacingAndGlyphs">INTERSPIRO</text>
<path class="t" d="M 967.6,749.1 L 1067.6,750.8" />
<text x="705.8" y="790.0" font-size="8" font-weight="bold" font-style="italic" text-anchor="middle" textLength="92" lengthAdjust="spacingAndGlyphs" transform="rotate(180 705.8 787.5)">INTERSPIRO</text>
<path class="t" d="M 656.5,785.3 L 756.5,786.4" />
<path class="tg" d="M 813.5,753.0 L 825.0,753.0 L 825.0,787.2 L 813.5,787.2 Z M 899.1,753.0 L 911.4,753.0 L 911.4,787.2 L 899.1,787.2 Z" />
<path class="mg" d="M 808.6,798.2 L 834.6,798.2 L 834.6,815.5 L 812.7,815.5 Q 808.6,815.5 808.6,811.4 Z" />
<ellipse class="tw" cx="820.1" cy="808.3" rx="4.7" ry="3.0" />
<path class="mg" d="M 889.5,798.2 L 922.4,798.2 L 922.4,811.9 Q 922.4,816.0 918.2,816.0 L 889.5,816.0 Z" />
<ellipse class="tw" cx="910.0" cy="809.2" rx="4.7" ry="3.0" />
<path class="kg" d="M 834.6,796.8 L 889.5,796.8 L 888.1,821.5 Q 894.1,829.7 893.6,842.1 L 892.2,853.0 L 831.9,853.0 L 830.5,842.1 Q 830.0,829.7 836.0,821.5 Z" />
<path class="t" d="M 836.0,821.5 Q 860.7,814.6 888.1,821.5 M 862.1,798.2 L 862.1,810.5" />
<path class="mg" d="M 731.9,699.5 L 770.2,699.5 L 770.2,733.8 L 731.9,733.8 Q 726.4,733.8 726.4,728.3 L 726.4,705.0 Q 726.4,699.5 731.9,699.5 Z" />
<path class="t" d="M 731.9,699.5 Q 729.1,711.9 731.9,733.8" />
<path class="kg" d="M 771.6,691.3 L 779.8,691.3 L 779.8,743.4 L 771.6,743.4 Z" />
<path class="mg" d="M 779.8,694.0 L 797.6,694.0 L 797.6,743.4 L 779.8,743.4 Z" />
<path class="kg" d="M 799.0,688.6 L 810.0,688.6 L 814.1,695.4 L 814.1,739.3 L 810.0,747.5 L 799.0,747.5 L 796.3,739.3 L 796.3,695.4 Z" />
<path class="t" d="M 799.0,688.6 L 799.0,747.5 M 810.0,688.6 L 810.0,747.5 M 796.3,709.1 L 799.0,709.1 M 796.3,728.3 L 799.0,728.3" />
<path class="mg" d="M 816.3,687.2 L 825.0,687.2 L 825.0,747.5 L 816.3,747.5 Q 814.1,717.3 816.3,687.2 Z" />
<path class="kg" d="M 899.1,694.0 L 918.2,694.0 Q 922.4,695.4 922.4,699.5 L 922.4,732.4 Q 922.4,736.0 918.2,736.5 L 899.1,736.5 Z" />
<path class="t" d="M 903.2,694.0 L 903.2,736.5 M 903.2,713.2 L 915.5,713.2 Q 916.9,716.0 915.5,718.7 L 903.2,718.7 M 918.2,695.4 L 918.2,735.2" />
<path class="kg" d="M 825.0,687.7 Q 825.0,683.1 830.5,683.1 L 893.6,683.1 Q 899.1,683.1 899.1,687.7 L 899.1,798.2 L 825.0,798.2 Z" />
<path class="t" d="M 825.0,753.0 Q 862.1,757.1 899.1,753.0 M 862.1,757.1 L 862.1,769.4 L 894.9,761.7 M 896.3,684.5 L 896.3,796.8 M 827.2,794.1 Q 862.1,797.4 896.9,794.1" />
<ellipse class="t" cx="861.2" cy="728.9" rx="0.5" ry="0.5" />
<path class="kg" d="M 840.1,666.6 L 882.6,666.6 L 882.6,695.4 L 864.8,705.0 L 842.9,695.4 Z" />
<path class="t" d="M 864.8,668.0 L 864.8,705.0" />
<path class="kg" d="M860.7,540.6 C871.6,540.6 884.0,541.2 893.6,544.7 C903.2,548.1 911.4,554.3 918.2,561.1 C925.1,568.0 931.3,579.4 934.7,585.8 C938.1,592.2 938.8,594.9 938.8,599.5 C938.8,604.1 935.8,608.2 934.7,613.2 C933.5,618.2 934.0,624.4 931.9,629.6 C929.9,634.9 926.2,640.1 922.4,644.7 C918.5,649.3 915.3,654.1 908.6,657.0 C902.0,660.0 890.6,661.4 882.6,662.5 C874.6,663.7 868.0,663.9 860.7,663.9 C853.4,663.9 846.7,663.7 838.8,662.5 C830.8,661.4 819.3,660.0 812.7,657.0 C806.1,654.1 802.9,649.3 799.0,644.7 C795.1,640.1 791.5,634.9 789.4,629.6 C787.4,624.4 787.8,618.2 786.7,613.2 C785.5,608.2 782.6,604.1 782.6,599.5 C782.6,594.9 783.3,592.2 786.7,585.8 C790.1,579.4 796.3,568.0 803.1,561.1 C810.0,554.3 818.2,548.1 827.8,544.7 C837.4,541.2 849.7,540.6 860.7,540.6 Z" />
<ellipse class="t" cx="861.2" cy="627.4" rx="52.6" ry="34.8" />
<path class="t" d="M 796.3,635.1 Q 786.7,602.2 804.5,591.3 Q 860.7,569.3 918.2,591.3 Q 934.7,602.2 926.5,635.1 M 803.1,598.1 L 810.0,555.6 M 918.2,598.1 L 911.4,555.6 M 855.2,544.1 L 851.1,576.2 M 864.8,544.1 L 868.9,576.2 M 844.2,580.3 L 851.1,576.2 L 857.9,578.9 M 868.9,576.2 L 877.1,579.8 M 822.3,581.7 Q 841.5,574.8 851.1,576.2 M 868.9,576.2 Q 885.3,576.2 904.5,584.4 M 788.0,610.4 Q 792.2,637.9 814.1,654.3 M 934.7,610.4 Q 930.6,637.9 908.6,654.3" />
<path class="kg" d="M834.0,847.0 C843.7,844.8 856.2,841.3 865.4,841.5 C874.5,841.8 880.3,845.1 888.9,848.6 C897.5,852.1 910.2,858.5 917.1,862.7 C924.0,866.9 928.1,868.4 930.4,873.7 C932.8,878.9 930.0,889.3 931.2,894.0 C932.4,898.7 936.6,898.0 937.5,901.9 C938.4,905.8 938.3,913.1 936.7,917.6 C935.1,922.0 930.8,924.6 928.1,928.5 C925.3,932.4 925.5,937.7 920.3,941.1 C915.0,944.5 908.5,948.1 896.7,948.9 C885.0,949.7 862.8,947.1 849.7,945.8 C836.7,944.5 826.2,942.6 818.4,941.1 C810.5,939.5 806.9,939.0 802.7,936.4 C798.5,933.8 795.0,929.8 793.3,925.4 C791.6,921.0 793.7,914.9 792.5,909.7 C791.3,904.5 786.9,899.5 786.2,894.0 C785.6,888.6 785.8,881.5 788.6,876.8 C791.3,872.1 799.6,869.5 802.7,865.8 C805.8,862.2 802.2,858.0 807.4,854.9 C812.6,851.7 824.4,849.2 834.0,847.0 Z" />
<path class="w" d="M 791.7,881.5 L 815.2,866.6 L 849.7,885.4 L 827.8,894.0 L 805.8,908.2 L 794.1,901.9 Z" />
<path class="t" d="M 815.2,866.6 L 821.5,887.8 M 834.0,847.0 Q 849.7,851.7 865.4,841.5 M 887.3,850.2 L 886.6,875.2 M 930.4,894.0 L 928.1,909.7" />
<path class="k" d="M805.8,856.4 C813.1,858.0 835.9,860.6 849.7,865.8 C863.6,871.1 878.5,878.9 888.9,887.8 C899.4,896.7 907.2,910.2 912.4,919.1 C917.6,928.0 919.7,935.8 920.3,941.1 C920.8,946.3 916.3,948.9 915.5,950.5" style="stroke-width:9"/>
<path class="k" d="M805.8,856.4 C813.1,858.0 835.9,860.6 849.7,865.8 C863.6,871.1 878.5,878.9 888.9,887.8 C899.4,896.7 907.2,910.2 912.4,919.1 C917.6,928.0 919.7,935.8 920.3,941.1 C920.8,946.3 916.3,948.9 915.5,950.5" style="stroke:#e6e6e6;stroke-width:5"/>
<path class="kw" d="M 826.2,916.0 Q 849.7,903.4 881.1,909.7 L 898.3,925.4 L 904.6,972.4 L 896.7,985.0 L 849.7,988.1 L 824.6,972.4 Z" />
<path class="t" d="M 834.0,925.4 L 832.5,969.3 M 840.3,923.8 L 840.3,972.4 M 849.7,937.9 L 849.7,977.1 M 857.6,919.1 L 857.6,956.7 M 865.4,919.1 L 866.2,948.9 M 874.8,920.7 L 876.4,977.1 M 885.8,930.1 L 888.1,972.4 M 890.5,930.1 L 893.6,956.7 M 841.9,937.9 L 857.6,934.8 M 857.6,956.7 L 876.4,955.2 M 840.3,972.4 L 843.4,980.3 L 862.3,975.5 L 860.7,969.3 M 873.2,975.5 L 890.5,985.0 L 893.6,977.1" />
<path class="k" d="M813.7,930.1 C812.4,928.8 805.6,926.2 805.8,922.3 C806.1,918.3 810.0,910.5 815.2,906.6 C820.5,902.7 829.9,900.2 837.2,898.7 C844.5,897.3 851.8,896.9 859.1,898.0 C866.4,899.0 874.3,900.7 881.1,905.0 C887.9,909.3 894.6,916.5 899.9,923.8 C905.1,931.1 909.9,940.8 912.4,948.9 C915.0,957.0 915.1,966.0 915.2,972.4 C915.4,978.8 913.5,984.8 913.2,987.3" style="stroke-width:10.5"/>
<path class="k" d="M813.7,930.1 C812.4,928.8 805.6,926.2 805.8,922.3 C806.1,918.3 810.0,910.5 815.2,906.6 C820.5,902.7 829.9,900.2 837.2,898.7 C844.5,897.3 851.8,896.9 859.1,898.0 C866.4,899.0 874.3,900.7 881.1,905.0 C887.9,909.3 894.6,916.5 899.9,923.8 C905.1,931.1 909.9,940.8 912.4,948.9 C915.0,957.0 915.1,966.0 915.2,972.4 C915.4,978.8 913.5,984.8 913.2,987.3" style="stroke:#fff;stroke-width:6"/>
<path class="kw" d="M 815.2,970.8 L 827.8,972.4 Q 849.7,986.5 896.7,986.5 L 910.8,994.4 L 909.3,1002.2 L 881.1,1008.5 L 862.3,1014.7 L 837.2,1010.0 L 812.1,991.2 Z" />
<text x="862.3" y="999.8" font-size="11.5" font-weight="bold" font-style="italic" text-anchor="middle" textLength="88" lengthAdjust="spacingAndGlyphs" transform="rotate(9 862.3 999.8)">INTERSPIRO</text>
<path class="t" d="M 818.4,983.4 Q 859.1,997.5 908.5,994.4 M 827.8,1000.6 L 840.3,1008.5 M 859.1,1013.2 L 877.9,1006.9" />
<path class="kw" d="M 572.1,1696.9 L 615.1,1691.2 L 621.2,1748.5 L 578.8,1754.2 Q 576.5,1754.2 576.1,1751.8 L 570.2,1699.6 Q 570.2,1697.3 572.1,1696.9 Z" />
<path class="t" d="M 582.6,1695.8 L 588.7,1752.7 M 588.3,1695.0 L 594.5,1751.9 M 595.0,1694.1 L 601.1,1751.0 M 600.8,1693.3 L 606.9,1750.2 M 607.4,1692.3 L 613.6,1749.3 M 612.2,1691.8 L 618.3,1748.7" />
<path class="g" d="M 575.3,1743.2 L 620.4,1736.5 L 621.2,1748.1 L 578.8,1753.9 Z" />
<path class="kw" d="M 528.2,1713.0 L 570.2,1706.9 L 574.6,1744.1 L 532.9,1750.4 Z" />
<path class="g" d="M 531.6,1739.3 L 573.4,1733.6 L 574.6,1743.7 L 532.9,1750.0 Z" />
<path class="k" d="M 558.7,1709.2 L 563.5,1746.0" />
<path class="mw" d="M 419.3,1703.0 Q 419.3,1693.5 433.0,1693.1 Q 447.0,1693.5 447.0,1703.0 L 449.8,1718.3 L 462.3,1718.3 L 462.3,1729.8 L 447.0,1739.3 L 422.1,1739.3 L 418.3,1735.5 Z" />
<path class="g" d="M 424.1,1716.4 Q 433.0,1724.1 444.1,1716.4 L 447.0,1739.3 L 422.1,1739.3 Z" />
<ellipse class="tg" cx="433.0" cy="1704.6" rx="8.4" ry="6.1" />
<ellipse class="t" cx="433.0" cy="1705.9" rx="13.4" ry="9.2" />
<path class="kg" d="M 462.3,1720.2 L 471.8,1747.0 L 477.5,1771.8 Q 492.8,1785.2 511.9,1777.5 Q 527.2,1769.9 528.2,1754.6 L 529.1,1720.2 Z" />
<path class="mg" d="M 522.4,1739.3 L 529.1,1729.8 L 531.0,1754.6 L 523.4,1754.6 Z" />
<ellipse class="kw" cx="494.0" cy="1718.3" rx="34.8" ry="26.7" />
<path d="M461.1,1721.2 A32.9,24.5 0 0 0 526.8,1721.2" fill="none" stroke="#000" stroke-width="5" stroke-dasharray="1.1 1.6" />
<ellipse class="t" cx="494.0" cy="1713.5" rx="30.6" ry="22.5" />
<path class="kw" d="M 467.0,1697.3 Q 467.0,1674.4 493.8,1674.4 Q 520.5,1674.4 520.5,1697.3 L 518.6,1712.6 Q 493.8,1731.7 468.9,1712.6 Z" />
<path d="M468.6,1705.0 A25.2,19.1 0 0 0 519.0,1705.0" fill="none" stroke="#000" stroke-width="6" stroke-dasharray="1.1 1.6" />
<ellipse class="t" cx="492.8" cy="1696.0" rx="1.9" ry="1.5" />
<ellipse class="t" cx="508.9" cy="1690.4" rx="4.2" ry="3.4" />
<path class="mw" d="M 401.1,1756.5 Q 405.0,1743.2 435.5,1738.4 Q 458.4,1741.2 464.2,1756.5 L 464.2,1773.7 L 401.1,1773.7 Z" />
<path class="kw" d="M355.3,1788.6 C357.5,1785.8 363.2,1776.7 368.7,1771.8 C374.1,1766.9 379.2,1762.6 387.8,1759.4 C396.4,1756.2 411.6,1753.5 420.2,1752.7 C428.8,1751.9 431.1,1753.5 439.3,1754.6 C447.6,1755.7 461.6,1757.2 469.9,1759.4 C478.2,1761.6 485.5,1763.1 489.0,1768.0 C492.5,1772.9 490.6,1785.2 490.9,1788.6" />
<path class="w" d="M 355.7,1788.2 L 490.5,1788.2 L 490.5,1773.7 L 368.7,1773.7 Z" />
<path class="g" d="M 420.2,1781.4 L 439.3,1773.7 L 469.9,1777.5 L 473.7,1788.2 L 416.4,1788.2 Z M 368.7,1779.5 L 383.9,1773.7 L 385.8,1788.2 L 368.7,1788.2 Z" />
<path class="t" d="M 368.7,1771.8 L 368.7,1788.0 M 418.3,1754.6 L 418.3,1783.3 M 439.3,1755.6 L 439.3,1781.4 M 469.9,1760.3 L 471.8,1787.1" />
<path class="kw" d="M 954.3,1670.6 L 1155.9,1695.4 L 1150.1,1749.8 L 948.6,1716.8 Q 945.3,1716.0 945.7,1712.6 L 950.5,1673.4 Q 951.1,1670.6 954.3,1670.6 Z" />
<path class="g" d="M 946.7,1708.8 L 1150.9,1739.3 L 1150.1,1749.5 L 948.6,1716.4 Z" />
<path class="kw" d="M 1155.9,1695.4 L 1196.0,1699.2 Q 1198.8,1699.6 1198.5,1702.7 L 1193.1,1752.7 Q 1192.5,1755.4 1189.9,1755.0 L 1150.1,1749.8 Z" />
<path class="t" d="M 1161.6,1696.0 L 1155.9,1750.4 M 1167.3,1696.5 L 1161.6,1751.2 M 1174.0,1697.3 L 1168.3,1751.9 M 1179.7,1697.9 L 1174.0,1752.7 M 1186.4,1698.5 L 1180.7,1753.5 M 1191.2,1698.8 L 1185.5,1754.0" />
<path class="g" d="M 1151.3,1738.4 L 1194.3,1744.1 L 1193.1,1752.7 L 1189.9,1754.6 L 1150.1,1749.5 Z" />
<path class="kw" d="M 1198.3,1710.3 L 1241.8,1713.5 L 1239.9,1754.0 L 1194.5,1747.0 Z" />
<path class="g" d="M 1195.6,1736.5 L 1240.5,1743.2 L 1239.9,1753.7 L 1194.5,1746.6 Z" />
<path class="k" d="M 1210.3,1711.1 L 1206.5,1748.9" />
<text x="1086.1" y="1736.5" font-size="8" font-weight="bold" font-style="italic" text-anchor="middle" textLength="92" lengthAdjust="spacingAndGlyphs" transform="rotate(189 1086.1 1734.0)">INTERSPIRO</text>
<path class="m" d="M 1036.5,1724.1 L 1134.9,1739.3" />
<path class="mw" d="M 1322.1,1704.0 Q 1322.1,1694.8 1335.8,1694.4 Q 1349.8,1694.8 1349.8,1704.0 L 1349.8,1739.3 L 1310.6,1747.0 L 1309.6,1719.3 L 1320.1,1719.3 Z" />
<path class="g" d="M 1324.0,1720.2 Q 1335.4,1726.0 1348.8,1720.2 L 1349.8,1739.3 L 1320.1,1744.1 Z" />
<ellipse class="tg" cx="1335.4" cy="1706.9" rx="8.4" ry="6.1" />
<ellipse class="t" cx="1335.4" cy="1708.4" rx="13.4" ry="9.2" />
<path class="kg" d="M 1240.9,1720.2 L 1241.8,1754.6 L 1245.6,1773.7 L 1262.8,1790.0 L 1276.2,1790.0 L 1295.3,1754.6 L 1309.6,1720.2 Z" />
<path class="mg" d="M 1240.9,1739.3 L 1238.0,1729.8 L 1239.0,1754.6 L 1246.6,1756.5 Z" />
<ellipse class="kw" cx="1275.3" cy="1720.2" rx="34.4" ry="25.8" />
<path d="M1242.8,1723.1 A32.5,23.7 0 0 0 1307.7,1723.1" fill="none" stroke="#000" stroke-width="5" stroke-dasharray="1.1 1.6" />
<ellipse class="t" cx="1275.3" cy="1715.5" rx="30.2" ry="21.8" />
<path class="kw" d="M 1249.5,1701.1 Q 1249.5,1676.3 1276.2,1676.3 Q 1303.0,1676.3 1303.0,1701.1 L 1301.0,1715.5 Q 1276.2,1734.6 1251.4,1715.5 Z" />
<path d="M1251.0,1707.8 A25.2,19.1 0 0 0 1301.4,1707.8" fill="none" stroke="#000" stroke-width="6" stroke-dasharray="1.1 1.6" />
<ellipse class="t" cx="1276.2" cy="1697.9" rx="1.9" ry="1.5" />
<ellipse class="t" cx="1276.6" cy="1683.6" rx="3.8" ry="3.2" />
<path class="mw" d="M1293.4,1762.3 C1295.6,1760.3 1302.0,1754.3 1306.8,1750.8 C1311.6,1747.3 1314.7,1743.2 1322.1,1741.2 C1329.4,1739.3 1343.4,1737.7 1350.7,1739.3 C1358.0,1740.9 1363.1,1747.0 1366.0,1750.8 C1368.9,1754.6 1367.6,1760.3 1367.9,1762.3" />
<path class="kw" d="M1281.0,1788.6 C1280.8,1785.8 1278.0,1775.9 1280.0,1771.8 C1282.1,1767.7 1284.8,1767.2 1293.4,1764.2 C1302.0,1761.1 1322.1,1755.3 1331.6,1753.7 C1341.2,1752.1 1344.3,1753.2 1350.7,1754.6 C1357.1,1756.1 1364.1,1761.3 1369.8,1762.3 C1375.5,1763.2 1380.1,1758.8 1385.1,1760.3 C1390.1,1761.9 1396.2,1767.1 1400.0,1771.8 C1403.8,1776.5 1406.7,1785.8 1408.0,1788.6" />
<path class="w" d="M 1281.4,1788.2 L 1407.6,1788.2 L 1407.6,1773.7 L 1281.4,1773.7 Z" />
<path class="g" d="M 1341.2,1781.4 L 1360.3,1771.8 L 1385.1,1773.7 L 1398.5,1788.2 L 1337.3,1788.2 Z M 1299.1,1777.5 L 1314.4,1771.8 L 1314.4,1788.2 L 1299.1,1788.2 Z" />
<path class="t" d="M 1281.9,1771.8 L 1281.9,1788.0 M 1330.7,1754.6 L 1329.7,1785.2 M 1350.7,1755.6 L 1350.7,1787.1 M 1385.1,1762.3 L 1385.1,1787.1" />
</g>
<g id="right_top">
<rect x="1860.5" y="116.5" width="219" height="312.5" class="mw" style="stroke-width:1.8"/>
<path class="m" d="M1860.5,127 L2079.5,127 M1860.5,167 L2079.5,167 M1860.5,176 L2079.5,176"/>
<rect x="1886" y="190" width="169" height="219" rx="10" class="mw"/>
<path class="mw" d="M1930,141 L1959,141 Q1960,131 1969,131 Q1978,131 1979,141 L2010,141 Q2020,141 2020,151 Q2020,161 2010,161 L1930,161 Q1920,161 1920,151 Q1920,141 1930,141 Z"/>
<circle cx="1944.5" cy="368.5" r="23" fill="#5fc000" stroke="#000" stroke-width="1.5"/>
<circle cx="2000.5" cy="368.5" r="23" fill="#ffff00" stroke="#000" stroke-width="1.5"/>
<path class="mw" d="M2412.3,117.5 L2737.9,121.2 L2715.3,252.1 L2390.7,247.1 Z" style="stroke-width:1.8"/>
<path class="mg" d="M2390.7,247.1 L2715.3,252.1 L2726.2,364.7 L2400.3,361.7 Z" style="stroke-width:1.8"/>
<path class="mg" d="M2737.9,121.2 L2747.5,235.1 L2726.2,364.7 L2715.3,252.1 Z" style="stroke-width:1.8"/>
<path class="t" d="M2415.5,119 L2394,247 M2734.5,122 L2712,251.5 M2393,250 L2716,255 M2717,254 L2728,363 M2394,249 L2403,360"/>
<path class="tg" d="M2543,250 Q2544,260 2554,260 Q2564,260 2565,250.2"/>
<circle cx="2472.1" cy="158.7" r="23.3" fill="#5fc000" stroke="#000" stroke-width="1.5"/>
<circle cx="2536.5" cy="158.7" r="23.3" fill="#ffff00" stroke="#000" stroke-width="1.5"/>
<circle cx="2468.4" cy="213.2" r="23.3" fill="#00bfb8" stroke="#000" stroke-width="1.5"/>
<circle cx="2537.2" cy="213.2" r="23.3" fill="#ff1fb4" stroke="#000" stroke-width="1.5"/>
<circle cx="2605" cy="213.2" r="23.3" fill="#5fef0a" stroke="#000" stroke-width="1.5"/>
<g fill="#e6002d"><path d="M2539,312 L2539,292 Q2539,278 2554.5,278 Q2570,278 2570,292 L2570,312 L2564,312 L2564,293 Q2564,285 2554.5,285 Q2545,285 2545,293 L2545,312 Z"/><circle cx="2554.5" cy="302" r="9"/><rect x="2516" y="313" width="79" height="22"/></g>
<text x="2555.5" y="330.5" font-size="17" font-weight="bold" font-style="italic" text-anchor="middle" textLength="75" lengthAdjust="spacingAndGlyphs" stroke="#000" stroke-width="1.2">INTERSPIRO</text>
<text x="2554" y="343" font-size="9" font-weight="bold" text-anchor="middle" textLength="60" lengthAdjust="spacingAndGlyphs" stroke="#000" stroke-width=".5">inspire breathing</text>
<path class="t" d="M3721,308 Q3716,316 3715,326 M3726,309 Q3722,316 3721,324" style="stroke-width:1.5"/>
</g>
<g id="panel">
<path class="d" d="M1845,633.5 L3036.5,633.5 Q3072.5,633.5 3072.5,669.5 L3072.5,1641.5 Q3072.5,1677.5 3036.5,1677.5 L1845,1677.5 Q1809,1677.5 1809,1641.5 L1809,669.5 Q1809,633.5 1845,633.5 Z"/>
<path class="d" d="M1845,1876 L3012.5,1876 Q3048.5,1876 3048.5,1912 L3048.5,2301.5 Q3048.5,2337.5 3012.5,2337.5 L1845,2337.5 Q1809,2337.5 1809,2301.5 L1809,1912 Q1809,1876 1845,1876 Z"/>
<path class="d" d="M1614,1089 L1676.5,1089 Q1712.5,1089 1712.5,1125 L1712.5,1207.5 Q1712.5,1243.5 1676.5,1243.5 L1614,1243.5 Q1578,1243.5 1578,1207.5 L1578,1125 Q1578,1089 1614,1089 Z"/>
<path class="d" d="M1268.5,2187.5 L1407.5,2187.5 Q1457.5,2187.5 1457.5,2237.5 L1457.5,2311.5 Q1457.5,2361.5 1407.5,2361.5 L1268.5,2361.5 Q1218.5,2361.5 1218.5,2311.5 L1218.5,2237.5 Q1218.5,2187.5 1268.5,2187.5 Z"/>
<path class="d" d="M1852,1272.5 L2265,1272.5 Q2309,1260 2309,1225 L2309,1085 Q2309,1045 2345,1045 L2470,1045 Q2503,1045 2503,1080 L2503,1630 Q2503,1664 2470,1664 L1855,1664 Q1821.5,1664 1821.5,1630 L1821.5,1305 Q1821.5,1272.5 1852,1272.5"/>
</g>
<g id="panelA">
<ellipse class="kw" cx="2444.7" cy="782.3" rx="61.6" ry="83.3" transform="rotate(-6 2444.7 782.3)" />
<path class="g" d="M 2463.3,749.3 L 2486.5,744.7 Q 2502.8,770.2 2500.5,802.8 Q 2493.5,833.0 2472.6,854.0 L 2456.3,858.6 Q 2479.5,826.0 2479.5,788.8 Q 2477.2,765.6 2463.3,749.3 Z" />
<ellipse class="kw" cx="2419.1" cy="782.3" rx="64.0" ry="84.2" transform="rotate(-8 2419.1 782.3)" />
<path class="t" d="M 2377.2,716.7 Q 2426.0,698.1 2463.3,733.0 Q 2486.5,770.2 2474.9,816.7 Q 2460.9,849.3 2426.0,857.4" />
<ellipse class="m" cx="2413.3" cy="785.3" rx="45.8" ry="65.8" transform="rotate(-10 2413.3 785.3)" style="fill:#fff"/>
<ellipse class="t" cx="2414.4" cy="785.3" rx="50.0" ry="69.8" transform="rotate(-10 2414.4 785.3)" />
<path d="M2401.9,828.4 L2397.8,839.9 M2397.3,828.0 L2393.3,836.3 M2393.9,824.4 L2389.1,832.0 M2390.6,820.3 L2385.1,827.2 M2387.7,815.8 L2381.6,821.8 M2387.0,809.4 L2378.4,816.0 M2382.8,805.7 L2375.6,809.8 M2381.0,800.2 L2373.4,803.2 M2379.5,794.5 L2371.6,796.5 M2378.5,788.7 L2370.4,789.6 M2380.2,783.0 L2369.7,782.6 M2377.7,777.1 L2369.5,775.7 M2378.0,771.4 L2370.0,768.9 M2378.8,765.9 L2370.9,762.3 M2380.0,760.6 L2372.4,756.1 M2383.6,757.3 L2374.4,750.1 M2383.6,751.0 L2376.9,744.6 M2385.9,746.9 L2379.9,739.7 M2388.7,743.2 L2383.2,735.3 M2391.7,740.1 L2387.0,731.5 M2396.1,740.3 L2391.1,728.5 M2398.5,735.6 L2395.5,726.1 M2402.3,734.2 L2400.1,724.5 M2406.1,733.6 L2404.8,723.6 M2410.1,733.5 L2409.7,723.6 M2413.9,737.1 L2414.6,724.3 M2418.0,735.4 L2419.5,725.8 M2422.0,737.3 L2424.3,728.0 M2425.8,739.9 L2429.0,731.0 M2429.4,742.9 L2433.5,734.7 M2431.5,748.8 L2437.7,739.0 M2436.1,750.7 L2441.6,743.8 M2439.0,755.2 L2445.2,749.3 M2441.6,760.2 L2448.3,755.1 M2443.8,765.4 L2451.0,761.4 M2443.5,771.8 L2453.3,767.9 M2447.1,776.6 L2455.0,774.7 M2448.1,782.4 L2456.2,781.6 M2448.7,788.2 L2456.9,788.5 M2448.8,794.0 L2457.0,795.4 M2446.1,798.9 L2456.5,802.2 M2447.7,805.2 L2455.5,808.8 M2446.5,810.5 L2454.0,815.1 M2444.8,815.4 L2451.9,821.0 M2442.8,820.0 L2449.4,826.4 M2438.7,821.9 L2446.4,831.3" stroke="#000" stroke-width="1.3" fill="none"/>
<text x="2414.4" y="749.8" font-size="10" font-weight="bold" text-anchor="middle" textLength="13" lengthAdjust="spacingAndGlyphs" transform="rotate(5 2414.4 749.8)">200</text>
<text x="2386.0" y="772.6" font-size="10" font-weight="bold" text-anchor="middle" textLength="12" lengthAdjust="spacingAndGlyphs" transform="rotate(5 2386.0 772.6)">100</text>
<text x="2384.2" y="793.5" font-size="10" font-weight="bold" text-anchor="middle" textLength="9" lengthAdjust="spacingAndGlyphs" transform="rotate(5 2384.2 793.5)">50</text>
<text x="2388.8" y="820.2" font-size="10" font-weight="bold" text-anchor="middle" textLength="5" lengthAdjust="spacingAndGlyphs" transform="rotate(5 2388.8 820.2)">0</text>
<text x="2442.3" y="782.3" font-size="10" font-weight="bold" text-anchor="middle" textLength="12" lengthAdjust="spacingAndGlyphs" transform="rotate(5 2442.3 782.3)">300</text>
<text x="2441.9" y="809.3" font-size="10" font-weight="bold" text-anchor="middle" textLength="12" lengthAdjust="spacingAndGlyphs" transform="rotate(5 2441.9 809.3)">360</text>
<text x="2414.0" y="816.7" font-size="10" font-weight="bold" text-anchor="middle" textLength="11" lengthAdjust="spacingAndGlyphs" transform="rotate(5 2414.0 816.7)">bar</text>
<text x="2413.3" y="823.7" font-size="6" font-weight="bold" text-anchor="middle" textLength="14" lengthAdjust="spacingAndGlyphs" transform="rotate(5 2413.3 823.7)">xxxxx</text>
<text x="2412.6" y="834.9" font-size="6" font-weight="bold" text-anchor="middle" textLength="22" lengthAdjust="spacingAndGlyphs" transform="rotate(5 2412.6 834.9)">xxxxxxx</text>
<text x="2414.9" y="767.4" font-size="7" font-weight="bold" text-anchor="middle" textLength="32" lengthAdjust="spacingAndGlyphs" transform="rotate(8 2414.9 767.4)">INTERSPIRO</text>
<path class="m" d="M 2398.6,761.4 L 2432.6,770.7 M 2398.1,768.4 L 2431.2,777.2" />
<ellipse class="mw" cx="2414.4" cy="786.5" rx="7.9" ry="9.8" />
<path class="m" d="M 2407.9,788.8 L 2381.4,817.2 M 2410.9,793.0 L 2382.3,818.1" />
<path class="kw" d="M 2406.3,863.7 L 2458.6,860.9 L 2460.9,877.2 L 2436.5,882.3 L 2407.4,877.2 Z" />
<path class="g" d="M 2436.5,870.2 L 2458.6,862.1 L 2460.5,876.7 L 2436.5,881.9 Z" />
<path class="kw" d="M 2419.1,881.9 L 2449.3,881.9 L 2449.3,907.4 L 2445.8,909.8 L 2445.8,917.9 Q 2430.7,922.6 2416.0,917.9 L 2416.0,909.8 L 2419.1,907.4 Z" />
<path class="g" d="M 2437.7,883.0 L 2448.8,883.0 L 2448.8,907.4 L 2445.3,909.8 L 2445.3,917.4 L 2437.7,919.1 Z" />
<path class="t" d="M 2419.1,886.5 Q 2434.2,890.0 2449.3,886.0 M 2419.1,907.4 Q 2434.2,910.9 2449.3,907.4 M 2416.0,910.9 Q 2430.7,914.4 2445.8,910.9 M 2436.5,870.2 L 2436.5,881.9" />
<path class="kw" d="M2528.4,684.2 C2532.2,679.1 2535.7,675.7 2549.3,670.2 C2562.9,664.8 2597.0,653.8 2609.8,651.6 C2622.6,649.5 2617.1,651.2 2626.0,657.4 C2635.0,663.6 2654.0,678.6 2663.3,688.8 C2672.6,699.1 2677.4,707.8 2681.9,719.1 C2686.3,730.3 2689.2,746.2 2690.0,756.3 C2690.8,766.4 2687.9,771.8 2686.5,779.5 C2685.2,787.3 2684.6,795.0 2681.9,802.8 C2679.1,810.5 2676.8,817.5 2670.2,826.0 C2663.6,834.6 2654.0,848.5 2642.3,854.0 C2630.7,859.4 2614.0,860.2 2600.5,858.6 C2586.9,857.1 2572.6,852.0 2560.9,844.7 C2549.3,837.3 2538.1,823.3 2530.7,814.4 C2523.3,805.5 2520.2,802.0 2516.7,791.2 C2513.3,780.3 2510.7,760.9 2509.8,749.3 C2508.8,737.7 2508.2,729.5 2510.9,721.4 C2513.6,713.3 2523.1,706.7 2526.0,700.5 C2529.0,694.3 2524.5,689.2 2528.4,684.2 Z" />
<path class="g" d="M 2644.7,716.7 L 2670.2,707.4 L 2687.7,756.3 L 2649.3,765.6 Z M 2651.6,765.6 L 2687.7,774.9 L 2670.2,826.0 L 2640.0,819.1 Z M 2635.3,821.4 L 2667.9,830.7 L 2642.3,852.8 L 2602.8,857.4 L 2621.4,837.7 Z" />
<path class="t" d="M 2616.7,693.5 L 2658.6,688.8 M 2644.7,716.7 L 2670.2,707.4 M 2649.3,765.6 L 2687.7,774.9 M 2651.6,765.6 L 2685.3,754.0 M 2640.0,819.1 L 2667.9,830.7 M 2621.4,837.7 L 2642.3,852.8 M 2593.5,670.2 L 2600.5,679.5 M 2544.7,674.9 L 2551.6,677.2 M 2621.4,848.1 L 2640.0,842.3" />
<ellipse class="kw" cx="2580.0" cy="759.1" rx="63.3" ry="85.6" transform="rotate(-14 2580.0 759.1)" />
<ellipse class="m" cx="2580.0" cy="759.1" rx="50.7" ry="70.9" transform="rotate(-14 2580.0 759.1)" />
<path class="g" d="M 2540.0,707.4 Q 2526.0,737.7 2533.0,779.5 Q 2542.3,812.1 2570.2,826.0 Q 2549.3,802.8 2547.0,760.9 Q 2547.0,721.4 2565.6,693.5 Q 2549.3,695.8 2540.0,707.4 Z" />
<ellipse class="t" cx="2584.2" cy="759.1" rx="44.2" ry="68.6" transform="rotate(-14 2584.2 759.1)" />
<ellipse class="t" cx="2588.8" cy="759.1" rx="38.4" ry="66.3" transform="rotate(-14 2588.8 759.1)" />
<ellipse class="mw" cx="2599.3" cy="757.4" rx="32.6" ry="63.3" transform="rotate(-12 2599.3 757.4)" />
<path class="t" d="M 2565.6,807.4 L 2577.2,802.8 L 2598.1,821.4 L 2593.5,826.0 Z M 2549.3,774.9 L 2558.6,772.6" />
<path class="kw" d="M 2399.3,936.0 L 2415.6,930.2 L 2445.8,931.4 L 2460.5,940.7 L 2457.4,1009.3 L 2440.0,1016.3 L 2410.9,1014.0 L 2395.3,1005.8 Z" />
<path class="g" d="M 2444.7,946.5 L 2460.5,940.7 L 2457.4,1009.3 L 2440.0,1016.3 Z" />
<path class="t" d="M 2399.3,936.0 L 2414.4,945.3 L 2444.7,946.5 L 2460.5,940.7 M 2414.4,945.3 L 2410.9,1014.0 M 2444.7,946.5 L 2440.0,1016.3" />
<ellipse class="tg" cx="2429.5" cy="939.1" rx="14.4" ry="5.1" />
<path class="mw" d="M 2414.4,1027.9 Q 2414.4,1025.1 2424.9,1025.1 Q 2435.3,1025.1 2435.3,1027.9 L 2435.3,1037.2 Q 2424.9,1040.7 2414.4,1037.2 Z" />
<ellipse class="t" cx="2424.9" cy="1028.1" rx="10.2" ry="2.6" />
<path class="g" d="M 2428.4,1031.4 L 2434.9,1030.2 L 2434.9,1037.2 L 2428.4,1038.6 Z" />
<path class="kw" d="M2406.3,1058.1 C2400.3,1064.0 2407.4,1088.0 2405.1,1093.0 C2402.8,1098.1 2394.7,1088.0 2392.3,1088.4 C2390.0,1088.8 2394.8,1092.6 2391.2,1095.3 C2387.5,1098.1 2376.0,1099.2 2370.2,1104.7 C2364.4,1110.1 2359.2,1120.2 2356.3,1127.9 C2353.4,1135.7 2352.8,1143.4 2352.8,1151.2 C2352.8,1158.9 2353.4,1169.1 2356.3,1174.4 C2359.2,1179.8 2367.3,1179.1 2370.2,1183.3 C2373.1,1187.4 2373.9,1194.1 2373.7,1199.5 C2373.5,1205.0 2372.0,1210.4 2369.1,1215.8 C2366.2,1221.2 2358.8,1225.9 2356.3,1232.1 C2353.8,1238.3 2353.6,1246.4 2354.0,1253.0 C2354.3,1259.6 2355.1,1266.2 2358.6,1271.6 C2362.1,1277.1 2371.8,1278.2 2374.9,1285.6 C2378.0,1292.9 2382.6,1308.3 2377.2,1315.8 C2371.8,1323.4 2349.9,1325.9 2342.3,1330.9 C2334.8,1336.0 2333.8,1340.4 2331.9,1346.0 C2329.9,1351.7 2329.7,1358.4 2330.7,1364.7 C2331.7,1370.9 2334.6,1377.8 2337.7,1383.3 C2340.8,1388.7 2345.4,1394.1 2349.3,1397.2 C2353.2,1400.3 2355.5,1401.5 2360.9,1401.9 C2366.4,1402.2 2378.4,1393.3 2381.9,1399.5 C2385.3,1405.7 2380.3,1431.1 2381.9,1439.1 C2383.4,1447.0 2384.2,1445.7 2391.2,1447.2 C2398.1,1448.8 2416.9,1449.1 2423.7,1448.4 C2430.5,1447.6 2430.3,1450.7 2431.9,1442.6 C2433.4,1434.4 2428.6,1408.3 2433.0,1399.5 C2437.5,1390.8 2454.1,1395.3 2458.6,1390.2 C2463.1,1385.2 2457.4,1374.0 2459.8,1369.3 C2462.1,1364.7 2469.7,1365.8 2472.6,1362.3 C2475.5,1358.8 2477.0,1353.0 2477.2,1348.4 C2477.4,1343.7 2476.8,1337.9 2473.7,1334.4 C2470.6,1330.9 2462.1,1330.2 2458.6,1327.4 C2455.1,1324.7 2453.8,1322.8 2452.8,1318.1 C2451.8,1313.5 2449.9,1306.5 2452.8,1299.5 C2455.7,1292.6 2466.9,1284.0 2470.2,1276.3 C2473.5,1268.5 2472.8,1259.6 2472.6,1253.0 C2472.4,1246.4 2471.4,1241.0 2469.1,1236.7 C2466.7,1232.5 2460.2,1232.9 2458.6,1227.4 C2457.1,1222.0 2456.3,1212.3 2459.8,1204.2 C2463.3,1196.0 2475.5,1186.7 2479.5,1178.6 C2483.6,1170.5 2483.6,1161.9 2484.2,1155.8 C2484.8,1149.7 2485.0,1147.7 2483.0,1141.9 C2481.1,1136.0 2477.8,1126.7 2472.6,1120.9 C2467.3,1115.1 2455.3,1111.6 2451.6,1107.0 C2447.9,1102.3 2452.6,1095.3 2450.5,1093.0 C2448.3,1090.7 2440.4,1098.8 2438.8,1093.0 C2437.3,1087.2 2446.6,1064.0 2441.2,1058.1 C2435.7,1052.3 2412.3,1052.3 2406.3,1058.1 Z"/>
<path class="g" d="M 2360.9,1174.0 L 2423.7,1187.9 L 2440.0,1201.9 L 2442.3,1210.0 L 2423.7,1197.2 L 2370.2,1187.9 Z M 2444.7,1210.0 L 2459.8,1204.2 L 2458.6,1227.4 L 2442.3,1236.7 Z M 2426.0,1299.5 L 2452.8,1299.5 L 2452.8,1318.1 L 2458.6,1327.4 L 2473.7,1334.4 L 2477.2,1348.4 L 2472.6,1362.3 L 2459.8,1369.3 L 2458.6,1390.2 L 2433.0,1399.5 L 2431.9,1442.6 L 2412.1,1447.9 L 2412.1,1399.5 L 2416.7,1369.3 L 2407.4,1346.0 L 2426.0,1341.4 Z M 2342.3,1374.0 L 2388.8,1350.7 L 2412.1,1346.0 L 2416.7,1369.3 L 2412.1,1392.6 L 2384.2,1399.5 L 2360.9,1401.4 Z" />
<ellipse class="mw" cx="2423.7" cy="1058.6" rx="17.7" ry="4.2" />
<ellipse class="t" cx="2423.7" cy="1058.6" rx="6.5" ry="1.9" style="fill:#444"/>
<path class="g" d="M 2430.7,1062.8 L 2440.5,1060.5 L 2438.8,1093.0 L 2431.9,1094.2 Z M 2433.0,1100.0 L 2450.5,1095.3 L 2451.6,1107.0 L 2433.0,1109.3 Z" />
<path class="t" d="M 2392.3,1088.8 Q 2421.4,1100.0 2450.5,1093.5 M 2394.7,1093.0 Q 2400.5,1086.0 2406.3,1087.2 M 2438.8,1087.2 Q 2447.0,1088.4 2450.5,1093.0 M 2391.2,1132.6 L 2398.1,1117.4 M 2392.3,1096.5 L 2391.2,1102.3" />
<ellipse class="mg" cx="2455.1" cy="1155.8" rx="29.8" ry="41.9" transform="rotate(10 2455.1 1155.8)" />
<ellipse class="mw" cx="2455.8" cy="1155.8" rx="21.4" ry="33.0" transform="rotate(10 2455.8 1155.8)" />
<ellipse class="mg" cx="2449.3" cy="1267.0" rx="25.1" ry="31.4" transform="rotate(8 2449.3 1267.0)" />
<ellipse class="mw" cx="2449.8" cy="1267.4" rx="19.1" ry="26.0" transform="rotate(8 2449.8 1267.4)" />
<ellipse class="mw" cx="2357.4" cy="1365.8" rx="26.0" ry="35.3" transform="rotate(-15 2357.4 1365.8)" />
<ellipse class="mw" cx="2356.3" cy="1365.8" rx="18.6" ry="26.0" transform="rotate(-15 2356.3 1365.8)" />
<path class="t" d="M 2366.7,1343.7 Q 2379.5,1364.7 2372.6,1376.3" />
<ellipse class="mw" cx="2465.6" cy="1348.4" rx="6.5" ry="10.5" transform="rotate(8 2465.6 1348.4)" />
<path class="t" d="M 2398.8,1199.5 L 2397.0,1228.6 L 2436.5,1232.1 M 2443.5,1210.0 L 2442.3,1229.8 M 2393.5,1293.7 L 2392.3,1308.8 M 2427.2,1303.0 L 2424.9,1336.7 M 2443.5,1301.9 L 2442.3,1327.4 Q 2443.5,1334.4 2448.1,1335.6 M 2377.2,1315.8 Q 2402.8,1322.8 2412.1,1346.0 M 2381.9,1434.4 Q 2407.4,1440.2 2433.0,1434.4 M 2431.9,1374.0 L 2431.9,1399.5 M 2540.0,1460.0" />
<path class="t" d="M 2381.9,1399.5 Q 2398.1,1403.0 2412.1,1399.5" />
<path class="kw" d="M 2376.7,1484.4 Q 2376.7,1475.8 2400.9,1475.3 Q 2426.0,1475.8 2426.0,1484.4 L 2440.5,1522.8 Q 2443.5,1541.4 2402.8,1541.4 Q 2359.8,1541.4 2362.6,1522.8 Z" />
<path class="g" d="M 2413.3,1490.2 L 2426.0,1485.6 L 2440.0,1522.8 Q 2442.3,1537.9 2416.7,1540.7 Z" />
<path class="t" d="M 2362.6,1522.8 Q 2402.8,1534.4 2440.5,1522.8" />
<ellipse class="t" cx="2400.9" cy="1484.4" rx="21.4" ry="6.0" />
</g>
<g id="panelB">
<g transform="rotate(8 2563.0 1180.7)"><path d="M2578.9,1190.1 A16.7,26.7 0 1 0 2568.9,1205.6" fill="none" stroke="#000" stroke-width="3.6"/><path d="M2578.9,1190.1 A16.7,26.7 0 1 0 2568.9,1205.6" fill="none" stroke="#fff" stroke-width="1.8"/></g>
<ellipse class="t" cx="2579.3" cy="1190.0" rx="2.6" ry="3.7" transform="rotate(20 2579.3 1190.0)" style="stroke-width:3.4"/>
<ellipse class="t" cx="2579.3" cy="1190.0" rx="2.6" ry="3.7" transform="rotate(20 2579.3 1190.0)" style="stroke:#fff;stroke-width:1.6"/>
<ellipse class="t" cx="2569.3" cy="1204.0" rx="2.6" ry="3.7" transform="rotate(20 2569.3 1204.0)" style="stroke-width:3.4"/>
<ellipse class="t" cx="2569.3" cy="1204.0" rx="2.6" ry="3.7" transform="rotate(20 2569.3 1204.0)" style="stroke:#fff;stroke-width:1.6"/>
<path class="kw" d="M 2603.7,1166.7 L 2611.9,1176.0 L 2628.1,1180.7 L 2629.3,1184.2 Q 2620.0,1198.1 2622.3,1212.1 Q 2624.7,1223.7 2631.6,1223.7 Q 2640.9,1212.1 2640.9,1188.8 L 2638.6,1181.9 L 2647.9,1178.4 L 2650.2,1185.3 L 2658.4,1187.7 L 2658.4,1202.8 L 2654.9,1212.1 L 2658.4,1213.3 L 2657.2,1219.1 L 2650.2,1219.1 L 2640.9,1226.0 L 2622.3,1235.3 L 2609.5,1236.5 L 2599.1,1228.4 L 2592.1,1212.1 L 2590.9,1193.5 L 2595.6,1177.2 Z" />
<path class="g" d="M 2600.2,1216.7 L 2622.3,1223.7 L 2631.6,1224.9 L 2640.9,1226.0 L 2622.3,1234.9 L 2609.5,1236.0 L 2600.2,1227.9 Z" />
<path class="t" d="M 2603.7,1166.7 Q 2596.7,1191.2 2600.2,1216.7 Q 2604.9,1230.7 2613.0,1236.0 M 2611.9,1176.0 Q 2604.9,1198.1 2609.5,1216.7 Q 2615.3,1226.0 2622.3,1223.7 M 2628.1,1180.7 Q 2617.7,1200.5 2623.5,1221.4 M 2594.4,1198.1 L 2613.0,1196.3 L 2615.3,1202.8 L 2597.9,1205.1 Z M 2640.9,1188.8 L 2650.2,1185.3 M 2643.3,1193.5 Q 2644.4,1212.1 2634.0,1222.6" />
<path class="kw" d="M 2650.2,1137.7 L 2682.8,1129.5 Q 2693.3,1131.9 2693.3,1144.7 Q 2693.3,1156.3 2687.4,1158.6 L 2657.2,1165.6 Q 2645.6,1164.4 2645.6,1151.2 Q 2646.7,1140.0 2650.2,1137.7 Z" />
<path class="g" d="M 2665.3,1149.3 L 2692.8,1142.3 Q 2693.3,1156.3 2687.4,1158.1 L 2659.5,1164.7 Q 2665.3,1160.9 2665.3,1149.3 Z" />
<ellipse class="mw" cx="2656.0" cy="1151.2" rx="9.8" ry="13.5" transform="rotate(-8 2656.0 1151.2)" />
<ellipse class="m" cx="2656.0" cy="1151.2" rx="2.8" ry="4.4" transform="rotate(-8 2656.0 1151.2)" />
<g transform="translate(2709.5 1137.7) rotate(-16.2)"><ellipse cx="37.0" cy="0" rx="12.3" ry="16.3" class="kw"/><ellipse cx="34.6" cy="0" rx="8.9" ry="13.0" class="mg"/><rect x="0" y="-5.6" width="35.1" height="11.2" rx="2.8" class="kw"/><path d="M4.5,-5.6 L5.7,5.6 M6.4,-5.6 L7.6,5.6 M8.3,-5.6 L9.5,5.6 M10.2,-5.6 L11.4,5.6 M12.1,-5.6 L13.3,5.6 M14.0,-5.6 L15.2,5.6 M15.9,-5.6 L17.1,5.6 M17.8,-5.6 L19.0,5.6 M19.7,-5.6 L20.9,5.6 M21.6,-5.6 L22.8,5.6 M23.5,-5.6 L24.7,5.6 M25.4,-5.6 L26.6,5.6 M27.3,-5.6 L28.5,5.6 M29.2,-5.6 L30.4,5.6 M31.1,-5.6 L32.3,5.6 M33.0,-5.6 L34.2,5.6" stroke="#000" stroke-width="0.9" fill="none"/><ellipse cx="2.5" cy="0" rx="2.2" ry="4.7" class="tw"/></g>
<path class="kw" d="M 2529.3,1274.9 L 2534.0,1260.9 L 2545.6,1256.3 L 2566.5,1258.6 L 2617.7,1274.9 L 2622.3,1278.4 L 2640.9,1276.0 L 2657.2,1266.7 L 2682.8,1272.6 L 2701.4,1284.2 L 2707.2,1295.8 L 2706.0,1328.4 L 2699.1,1347.0 L 2680.5,1360.9 L 2672.3,1362.1 L 2631.6,1344.7 L 2624.7,1335.3 L 2622.3,1328.4 L 2613.0,1329.5 L 2601.4,1322.6 L 2543.3,1307.4 L 2531.6,1298.1 Z" />
<path class="g" d="M 2531.6,1295.8 L 2601.4,1314.4 L 2613.0,1322.6 L 2622.3,1322.6 L 2624.7,1335.3 L 2631.6,1344.7 L 2672.3,1362.1 L 2680.5,1360.9 L 2659.5,1349.3 L 2650.2,1330.7 L 2622.3,1328.4 L 2613.0,1329.5 L 2601.4,1322.6 L 2543.3,1307.4 Z" />
<ellipse class="kg" cx="2680.5" cy="1316.7" rx="26.3" ry="44.2" transform="rotate(14 2680.5 1316.7)" />
<path class="t" d="M 2657.2,1266.7 Q 2645.6,1295.8 2652.6,1330.7 Q 2659.5,1351.6 2672.3,1362.1 M 2651.4,1295.8 L 2657.2,1286.5 L 2668.8,1277.2 M 2652.6,1330.7 L 2659.5,1342.3" />
<ellipse class="m" cx="2680.5" cy="1317.9" rx="12.8" ry="19.8" transform="rotate(14 2680.5 1317.9)" style="fill:#e6e6e6"/>
<ellipse class="mw" cx="2680.9" cy="1318.4" rx="8.8" ry="14.9" transform="rotate(14 2680.9 1318.4)" />
<path class="t" d="M 2557.2,1259.8 Q 2551.4,1284.2 2557.2,1309.8 M 2560.7,1260.9 Q 2554.9,1285.3 2560.7,1310.9 M 2575.8,1264.4 Q 2570.0,1288.8 2577.0,1315.6 M 2589.8,1269.1 Q 2585.1,1292.3 2589.8,1319.1 M 2594.4,1270.2 Q 2589.8,1293.5 2594.4,1320.2 M 2617.7,1274.9 Q 2610.7,1300.5 2613.0,1328.4 M 2622.3,1278.4 Q 2615.3,1302.8 2622.3,1328.4 M 2640.9,1276.0 Q 2631.6,1302.8 2631.6,1342.3" />
<path class="k" d="M 2573.5,1263.3 Q 2567.7,1288.8 2574.7,1314.9 M 2615.3,1274.4 Q 2608.4,1300.5 2611.9,1328.4" />
<ellipse class="t" cx="2601.9" cy="1293.0" rx="3.5" ry="4.0" />
<text x="2547.4" y="1281.9" font-size="10" font-style="italic" text-anchor="middle" transform="rotate(15 2547.4 1281.9)">PXX</text>
<ellipse class="kw" cx="2786.0" cy="1307.9" rx="14.0" ry="18.6" transform="rotate(-15 2786.0 1307.9)" />
<ellipse class="mw" cx="2784.4" cy="1307.0" rx="12.8" ry="17.2" transform="rotate(-15 2784.4 1307.0)" />
<ellipse class="k" cx="2785.1" cy="1307.4" rx="5.8" ry="9.3" transform="rotate(-15 2785.1 1307.4)" />
<ellipse class="t" cx="2785.8" cy="1307.9" rx="4.2" ry="7.4" transform="rotate(-15 2785.8 1307.9)" />
<ellipse class="kw" cx="2876.7" cy="1335.8" rx="14.0" ry="18.6" transform="rotate(-15 2876.7 1335.8)" />
<ellipse class="mw" cx="2875.1" cy="1334.9" rx="12.8" ry="17.2" transform="rotate(-15 2875.1 1334.9)" />
<ellipse class="k" cx="2875.8" cy="1335.3" rx="5.8" ry="9.3" transform="rotate(-15 2875.8 1335.3)" />
<ellipse class="t" cx="2876.5" cy="1335.8" rx="4.2" ry="7.4" transform="rotate(-15 2876.5 1335.8)" />
<g transform="translate(2897.9 1291.2) rotate(-20.3)"><ellipse cx="35.3" cy="0" rx="12.3" ry="16.3" class="kw"/><ellipse cx="33.0" cy="0" rx="8.9" ry="13.0" class="mg"/><rect x="0" y="-5.6" width="33.5" height="11.2" rx="2.8" class="kw"/><path d="M4.5,-5.6 L5.7,5.6 M6.4,-5.6 L7.6,5.6 M8.3,-5.6 L9.5,5.6 M10.2,-5.6 L11.4,5.6 M12.1,-5.6 L13.3,5.6 M14.0,-5.6 L15.2,5.6 M15.9,-5.6 L17.1,5.6 M17.8,-5.6 L19.0,5.6 M19.7,-5.6 L20.9,5.6 M21.6,-5.6 L22.8,5.6 M23.5,-5.6 L24.7,5.6 M25.4,-5.6 L26.6,5.6 M27.3,-5.6 L28.5,5.6 M29.2,-5.6 L30.4,5.6 M31.1,-5.6 L32.3,5.6" stroke="#000" stroke-width="0.9" fill="none"/><ellipse cx="2.5" cy="0" rx="2.2" ry="4.7" class="tw"/></g>
<g transform="translate(2989.8 1315.6) rotate(-21.0)"><ellipse cx="34.3" cy="0" rx="12.3" ry="16.3" class="kw"/><ellipse cx="31.9" cy="0" rx="8.9" ry="13.0" class="mg"/><rect x="0" y="-5.6" width="32.4" height="11.2" rx="2.8" class="kw"/><path d="M4.5,-5.6 L5.7,5.6 M6.4,-5.6 L7.6,5.6 M8.3,-5.6 L9.5,5.6 M10.2,-5.6 L11.4,5.6 M12.1,-5.6 L13.3,5.6 M14.0,-5.6 L15.2,5.6 M15.9,-5.6 L17.1,5.6 M17.8,-5.6 L19.0,5.6 M19.7,-5.6 L20.9,5.6 M21.6,-5.6 L22.8,5.6 M23.5,-5.6 L24.7,5.6 M25.4,-5.6 L26.6,5.6 M27.3,-5.6 L28.5,5.6 M29.2,-5.6 L30.4,5.6 M31.1,-5.6 L32.3,5.6" stroke="#000" stroke-width="0.9" fill="none"/><ellipse cx="2.5" cy="0" rx="2.2" ry="4.7" class="tw"/></g>
<g transform="translate(2904.9 1402.6) rotate(-18.1)"><ellipse cx="34.9" cy="0" rx="12.3" ry="16.3" class="kw"/><ellipse cx="32.6" cy="0" rx="8.9" ry="13.0" class="mg"/><rect x="0" y="-5.6" width="33.0" height="11.2" rx="2.8" class="kw"/><path d="M4.5,-5.6 L5.7,5.6 M6.4,-5.6 L7.6,5.6 M8.3,-5.6 L9.5,5.6 M10.2,-5.6 L11.4,5.6 M12.1,-5.6 L13.3,5.6 M14.0,-5.6 L15.2,5.6 M15.9,-5.6 L17.1,5.6 M17.8,-5.6 L19.0,5.6 M19.7,-5.6 L20.9,5.6 M21.6,-5.6 L22.8,5.6 M23.5,-5.6 L24.7,5.6 M25.4,-5.6 L26.6,5.6 M27.3,-5.6 L28.5,5.6 M29.2,-5.6 L30.4,5.6 M31.1,-5.6 L32.3,5.6" stroke="#000" stroke-width="0.9" fill="none"/><ellipse cx="2.5" cy="0" rx="2.2" ry="4.7" class="tw"/></g>
<g transform="translate(2990.9 1428.1) rotate(-19.9)"><ellipse cx="34.0" cy="0" rx="12.3" ry="16.3" class="kw"/><ellipse cx="31.7" cy="0" rx="8.9" ry="13.0" class="mg"/><rect x="0" y="-5.6" width="32.1" height="11.2" rx="2.8" class="kw"/><path d="M4.5,-5.6 L5.7,5.6 M6.4,-5.6 L7.6,5.6 M8.3,-5.6 L9.5,5.6 M10.2,-5.6 L11.4,5.6 M12.1,-5.6 L13.3,5.6 M14.0,-5.6 L15.2,5.6 M15.9,-5.6 L17.1,5.6 M17.8,-5.6 L19.0,5.6 M19.7,-5.6 L20.9,5.6 M21.6,-5.6 L22.8,5.6 M23.5,-5.6 L24.7,5.6 M25.4,-5.6 L26.6,5.6 M27.3,-5.6 L28.5,5.6 M29.2,-5.6 L30.4,5.6" stroke="#000" stroke-width="0.9" fill="none"/><ellipse cx="2.5" cy="0" rx="2.2" ry="4.7" class="tw"/></g>
<path class="kw" d="M 2768.8,1362.6 Q 2768.4,1348.6 2782.8,1346.3 L 2875.8,1370.7 Q 2888.6,1375.3 2890.2,1390.5 L 2897.2,1504.4 Q 2896.7,1518.4 2882.8,1517.9 L 2789.8,1495.6 Q 2777.0,1491.6 2775.3,1478.8 Z" />
<path class="t" d="M 2772.3,1364.9 Q 2772.3,1352.1 2784.0,1350.5 L 2874.7,1374.2 Q 2885.6,1378.4 2887.0,1391.6 L 2893.7,1503.3 Q 2893.3,1514.9 2882.8,1514.2 L 2790.9,1492.1 Q 2780.0,1488.6 2778.6,1477.7 Z" />
<ellipse class="mw" cx="2781.6" cy="1363.7" rx="5.6" ry="7.0" transform="rotate(-20 2781.6 1363.7)" />
<path class="t" d="M 2782.8,1358.6 Q 2786.7,1363.7 2783.5,1369.5" style="stroke-width:2.5"/>
<ellipse class="mw" cx="2873.0" cy="1387.0" rx="5.6" ry="7.0" transform="rotate(-20 2873.0 1387.0)" />
<path class="t" d="M 2874.2,1381.9 Q 2878.1,1387.0 2874.9,1392.8" style="stroke-width:2.5"/>
<ellipse class="mw" cx="2788.6" cy="1477.7" rx="5.6" ry="7.0" transform="rotate(-20 2788.6 1477.7)" />
<path class="t" d="M 2789.8,1472.6 Q 2793.7,1477.7 2790.5,1483.5" style="stroke-width:2.5"/>
<ellipse class="mw" cx="2880.0" cy="1502.1" rx="5.6" ry="7.0" transform="rotate(-20 2880.0 1502.1)" />
<path class="t" d="M 2881.2,1497.0 Q 2885.1,1502.1 2881.9,1507.9" style="stroke-width:2.5"/>
<ellipse class="mw" cx="2830.9" cy="1432.3" rx="8.8" ry="11.2" transform="rotate(-15 2830.9 1432.3)" />
<ellipse class="t" cx="2832.3" cy="1432.8" rx="7.0" ry="9.8" transform="rotate(-15 2832.3 1432.8)" />
<path class="mw" d="M 2788.6,1382.3 L 2800.2,1384.7 L 2804.9,1465.3 L 2794.4,1463.0 Z M 2857.2,1399.8 L 2868.8,1402.1 L 2873.0,1484.0 L 2861.9,1481.2 Z" />
<path class="t" d="M 2792.1,1384.0 L 2797.2,1463.7 M 2860.7,1401.2 L 2865.3,1482.3" />
<path class="kg" d="M 2631.6,1488.1 Q 2634.0,1467.2 2650.2,1455.6 L 2692.1,1438.1 L 2703.7,1438.8 L 2759.5,1454.4 L 2764.2,1460.2 L 2768.8,1528.8 L 2761.9,1533.5 L 2722.3,1535.8 Q 2706.0,1532.3 2702.6,1523.0 L 2700.2,1513.7 L 2692.1,1514.9 L 2650.2,1517.2 Q 2634.0,1513.7 2631.6,1488.1 Z" />
<path class="w" d="M 2695.6,1441.6 L 2759.5,1456.7 L 2722.3,1474.2 Q 2703.7,1485.8 2702.6,1506.7 L 2699.1,1512.6 Z" />
<path class="t" d="M 2695.6,1441.6 L 2699.1,1513.7 M 2695.6,1441.6 L 2759.5,1456.7 L 2722.3,1474.2 Q 2703.7,1485.8 2702.6,1506.7 Q 2703.7,1525.3 2722.3,1532.3 M 2636.3,1488.1 Q 2638.6,1469.5 2652.6,1459.1 L 2694.4,1441.6 M 2763.0,1460.2 L 2729.3,1475.3 Q 2708.4,1488.1 2707.2,1506.7 Q 2709.5,1525.3 2724.7,1531.9 L 2768.4,1527.7" />
<ellipse class="mw" cx="2657.2" cy="1485.8" rx="9.3" ry="13.5" transform="rotate(15 2657.2 1485.8)" />
<ellipse class="t" cx="2658.8" cy="1486.3" rx="7.0" ry="11.6" transform="rotate(15 2658.8 1486.3)" />
<ellipse class="mw" cx="2727.0" cy="1505.6" rx="8.8" ry="13.5" transform="rotate(15 2727.0 1505.6)" />
<ellipse class="t" cx="2728.6" cy="1506.0" rx="6.5" ry="11.6" transform="rotate(15 2728.6 1506.0)" />
<path class="kw" d="M 2536.3,1516.0 Q 2537.4,1499.8 2551.4,1496.3 L 2575.8,1503.3 L 2574.7,1509.1 L 2650.2,1530.0 Q 2659.5,1532.3 2659.5,1540.5 Q 2659.5,1549.8 2650.2,1552.1 L 2570.0,1530.0 L 2563.0,1534.7 L 2543.3,1530.0 Q 2536.3,1527.7 2536.3,1516.0 Z" />
<ellipse class="mg" cx="2563.0" cy="1518.8" rx="10.5" ry="16.3" transform="rotate(15 2563.0 1518.8)" />
<path class="t" d="M 2560.7,1509.1 L 2559.1,1527.7 M 2562.8,1509.5 L 2561.2,1528.1 M 2564.9,1510.2 L 2563.3,1528.8 M 2567.0,1510.7 L 2565.3,1529.3 M 2569.1,1511.4 L 2567.4,1530.0 M 2571.2,1511.9 L 2569.5,1530.5 M 2573.3,1512.3 L 2571.6,1530.9 M 2575.3,1513.0 L 2573.7,1531.6 M 2577.4,1513.5 L 2575.8,1532.1 M 2579.5,1514.2 L 2577.9,1532.8 M 2581.6,1514.7 L 2580.0,1533.3 M 2583.7,1515.1 L 2582.1,1533.7 M 2585.8,1515.8 L 2584.2,1534.4 M 2587.9,1516.3 L 2586.3,1534.9 M 2590.0,1517.0 L 2588.4,1535.6 M 2592.1,1517.4 L 2590.5,1536.0 M 2594.2,1517.9 L 2592.6,1536.5 M 2596.3,1518.6 L 2594.7,1537.2 M 2598.4,1519.1 L 2596.7,1537.7 M 2600.5,1519.8 L 2598.8,1538.4 M 2602.6,1520.2 L 2600.9,1538.8 M 2604.7,1520.7 L 2603.0,1539.3 M 2606.7,1521.4 L 2605.1,1540.0 M 2608.8,1521.9 L 2607.2,1540.5 M 2610.9,1522.6 L 2609.3,1541.2 M 2613.0,1523.0 L 2611.4,1541.6 M 2615.1,1523.5 L 2613.5,1542.1 M 2617.2,1524.2 L 2615.6,1542.8 M 2619.3,1524.7 L 2617.7,1543.3 M 2621.4,1525.3 L 2619.8,1544.0 M 2623.5,1525.8 L 2621.9,1544.4 M 2625.6,1526.3 L 2624.0,1544.9 M 2627.7,1527.0 L 2626.0,1545.6 M 2629.8,1527.4 L 2628.1,1546.0 M 2631.9,1528.1 L 2630.2,1546.7 M 2634.0,1528.6 L 2632.3,1547.2 M 2636.0,1529.1 L 2634.4,1547.7 M 2638.1,1529.8 L 2636.5,1548.4 M 2640.2,1530.2 L 2638.6,1548.8 M 2642.3,1530.9 L 2640.7,1549.5 M 2644.4,1531.4 L 2642.8,1550.0 M 2646.5,1531.9 L 2644.9,1550.5 M 2648.6,1532.6 L 2647.0,1551.2 M 2650.7,1533.0 L 2649.1,1551.6" style="stroke-width:1.1"/>
<path class="g" d="M 2543.3,1524.2 L 2563.0,1530.5 L 2563.0,1534.2 L 2543.3,1529.5 Z" />
<path class="kw" d="M 2680.5,1541.6 L 2695.6,1533.5 L 2710.7,1539.3 L 2715.3,1550.9 L 2709.5,1569.5 L 2694.4,1574.2 L 2680.5,1568.4 L 2675.8,1555.6 Z" />
<path class="g" d="M 2675.8,1555.6 L 2687.4,1562.6 L 2694.4,1574.2 L 2680.5,1568.4 Z" />
<path class="t" d="M 2680.5,1541.6 L 2692.1,1547.4 L 2710.7,1539.3 M 2692.1,1547.4 L 2687.4,1562.6 L 2675.8,1555.6 M 2687.4,1562.6 L 2694.4,1574.2" />
<ellipse class="mg" cx="2700.9" cy="1554.4" rx="6.5" ry="9.8" transform="rotate(10 2700.9 1554.4)" />
<ellipse class="t" cx="2701.4" cy="1554.7" rx="4.7" ry="7.9" transform="rotate(10 2701.4 1554.7)" />
</g>
<g id="panelC">
<path class="kw" d="M 2039.8,1058.6 Q 2039.8,1033.0 2054.9,1029.5 L 2085.1,1035.3 L 2087.4,1031.9 Q 2096.7,1027.2 2107.2,1030.2 L 2110.7,1045.8 L 2120.0,1037.7 L 2138.6,1034.2 L 2164.2,1040.0 L 2168.8,1048.1 L 2192.1,1054.0 L 2197.9,1059.8 L 2215.3,1060.9 L 2236.3,1066.7 L 2242.1,1074.9 Q 2257.2,1079.5 2261.9,1093.5 Q 2264.2,1112.1 2257.2,1123.7 Q 2250.2,1133.0 2236.3,1130.7 L 2215.3,1133.0 L 2201.4,1126.0 L 2192.1,1123.7 L 2166.5,1116.7 L 2145.6,1119.1 L 2129.3,1116.7 L 2120.0,1109.8 L 2110.7,1108.6 L 2103.7,1100.5 L 2082.8,1095.8 L 2075.8,1088.8 L 2072.3,1079.5 L 2044.4,1073.7 Q 2039.8,1070.2 2039.8,1058.6 Z" />
<path class="g" d="M 2043.3,1066.7 L 2072.3,1072.6 L 2072.3,1079.5 L 2044.4,1073.7 Z M 2078.1,1079.5 L 2103.7,1088.8 L 2120.0,1100.5 L 2145.6,1108.6 L 2166.5,1107.4 L 2192.1,1113.3 L 2201.4,1116.7 L 2215.3,1123.7 L 2236.3,1121.4 L 2236.3,1130.7 L 2215.3,1133.0 L 2201.4,1126.0 L 2192.1,1123.7 L 2166.5,1116.7 L 2145.6,1119.1 L 2129.3,1116.7 L 2120.0,1109.8 L 2110.7,1108.6 L 2103.7,1100.5 L 2082.8,1095.8 Z" />
<ellipse class="mg" cx="2245.6" cy="1104.0" rx="16.7" ry="27.4" transform="rotate(10 2245.6 1104.0)" />
<ellipse class="t" cx="2242.1" cy="1103.3" rx="18.1" ry="28.4" transform="rotate(10 2242.1 1103.3)" />
<path class="m" d="M 2085.1,1035.3 Q 2070.0,1060.9 2075.8,1088.8 M 2087.4,1031.9 Q 2072.3,1060.9 2082.8,1095.8 M 2107.2,1030.2 Q 2094.4,1065.6 2103.7,1100.5 M 2110.7,1045.8 Q 2097.9,1079.5 2110.7,1108.6 M 2120.0,1037.7 Q 2104.9,1074.9 2120.0,1109.8 M 2138.6,1034.2 Q 2120.0,1077.2 2129.3,1116.7 M 2164.2,1040.0 Q 2144.4,1079.5 2145.6,1119.1 M 2168.8,1048.1 Q 2154.9,1081.9 2166.5,1116.7 M 2236.3,1066.7 Q 2220.0,1100.5 2236.3,1130.7" />
<path class="t" d="M 2099.1,1029.3 Q 2085.1,1063.3 2094.4,1098.6 M 2102.6,1056.3 L 2101.4,1088.8 M 2147.9,1036.5 Q 2129.3,1078.4 2136.3,1117.9 M 2154.9,1056.3 Q 2145.6,1084.2 2152.6,1112.1 M 2182.8,1051.6 Q 2168.8,1086.5 2182.8,1121.4 M 2215.3,1060.9 Q 2201.4,1095.8 2215.3,1133.0 M 2224.7,1064.4 Q 2210.7,1098.1 2224.7,1131.9" />
<path class="k" d="M 2149.1,1049.3 Q 2136.3,1081.9 2144.4,1114.4 M 2197.9,1059.8 Q 2185.1,1093.5 2196.7,1124.9 M 2203.7,1060.9 Q 2190.9,1093.5 2203.7,1127.2" style="stroke-width:3.2"/>
<ellipse class="t" cx="2146.7" cy="1059.1" rx="2.3" ry="1.9" />
<path class="kg" d="M2122.3,1142.3 C2126.2,1137.7 2127.0,1145.0 2131.6,1144.7 C2136.3,1144.3 2145.2,1140.0 2150.2,1140.0 C2155.3,1140.0 2160.9,1141.6 2161.9,1144.7 C2162.8,1147.8 2159.1,1156.7 2156.0,1158.6 C2152.9,1160.5 2147.3,1155.5 2143.3,1156.3 C2139.2,1157.1 2134.3,1159.0 2131.6,1163.3 C2128.9,1167.5 2126.6,1175.7 2127.0,1181.9 C2127.4,1188.1 2130.9,1196.6 2134.0,1200.5 C2137.1,1204.3 2142.1,1205.1 2145.6,1205.1 C2149.1,1205.1 2152.4,1199.3 2154.9,1200.5 C2157.4,1201.6 2163.4,1207.8 2160.7,1212.1 C2158.0,1216.4 2145.4,1224.5 2138.6,1226.0 C2131.8,1227.6 2125.2,1226.4 2120.0,1221.4 C2114.8,1216.4 2109.1,1204.0 2107.2,1195.8 C2105.3,1187.7 2105.9,1181.5 2108.4,1172.6 C2110.9,1163.6 2118.4,1147.0 2122.3,1142.3 Z" />
<path class="mw" d="M 2122.3,1142.3 L 2121.2,1148.1 Q 2108.4,1167.9 2107.2,1186.5 Q 2108.4,1207.4 2120.0,1221.4 L 2122.3,1216.7 Q 2114.2,1202.8 2114.9,1184.2 Q 2116.5,1163.3 2130.5,1148.1 L 2131.6,1144.7 Z" />
<path class="t" d="M 2132.8,1201.6 L 2145.6,1197.0 L 2154.9,1200.5 M 2131.6,1163.3 Q 2122.3,1181.9 2132.8,1201.6" />
<g transform="rotate(8 2182.8 1195.8)"><path d="M2191.6,1219.6 A17.7,27.4 0 1 0 2178.2,1222.3" fill="none" stroke="#000" stroke-width="3.6"/><path d="M2191.6,1219.6 A17.7,27.4 0 1 0 2178.2,1222.3" fill="none" stroke="#fff" stroke-width="1.8"/></g>
<ellipse class="t" cx="2178.1" cy="1224.2" rx="2.6" ry="4.0" transform="rotate(15 2178.1 1224.2)" style="stroke-width:3.4"/>
<ellipse class="t" cx="2178.1" cy="1224.2" rx="2.6" ry="4.0" transform="rotate(15 2178.1 1224.2)" style="stroke:#fff;stroke-width:1.6"/>
<ellipse class="t" cx="2190.2" cy="1217.9" rx="2.6" ry="4.0" transform="rotate(15 2190.2 1217.9)" style="stroke-width:3.4"/>
<ellipse class="t" cx="2190.2" cy="1217.9" rx="2.6" ry="4.0" transform="rotate(15 2190.2 1217.9)" style="stroke:#fff;stroke-width:1.6"/>
<path class="kw" d="M 1900.2,1492.3 Q 1901.4,1473.7 1908.4,1471.4 L 1929.3,1460.9 L 1945.6,1463.3 L 2050.2,1429.5 Q 2066.5,1428.4 2075.8,1438.8 Q 2084.0,1450.5 2082.8,1462.1 Q 2080.5,1473.7 2070.0,1480.7 L 1964.2,1514.4 L 1950.2,1524.9 L 1929.3,1531.9 Q 1913.0,1530.7 1906.0,1517.9 Q 1900.2,1506.3 1900.2,1492.3 Z" />
<path class="g" d="M 1964.2,1486.5 L 2074.7,1450.5 Q 2084.0,1462.1 2070.0,1480.2 L 1964.2,1514.0 L 1950.2,1524.4 L 1929.3,1531.4 Q 1917.7,1529.5 1913.0,1522.6 L 1950.2,1499.3 Z" />
<ellipse class="mw" cx="1925.8" cy="1497.0" rx="23.3" ry="32.1" transform="rotate(-17 1925.8 1497.0)" />
<ellipse class="t" cx="1926.5" cy="1497.0" rx="20.5" ry="29.1" transform="rotate(-17 1926.5 1497.0)" />
<ellipse class="mw" cx="1929.3" cy="1498.1" rx="14.0" ry="19.8" transform="rotate(-17 1929.3 1498.1)" />
<path class="t" d="M 1935.1,1483.0 Q 1929.3,1494.7 1938.6,1510.9 M 1937.4,1484.2 Q 1932.8,1495.8 1941.4,1509.8" />
<path class="g" d="M 1913.0,1513.3 Q 1927.0,1522.6 1943.3,1506.3 L 1946.7,1513.3 Q 1931.6,1529.5 1917.7,1522.6 Z" />
<path class="t" d="M 1945.6,1463.3 Q 1959.5,1476.0 1964.2,1514.4 M 1929.3,1460.9 Q 1950.2,1473.7 1950.2,1524.9 M 2061.9,1430.7 Q 2073.5,1441.2 2073.5,1466.7" />
<ellipse class="kw" cx="2106.5" cy="1440.7" rx="11.6" ry="15.1" transform="rotate(-15 2106.5 1440.7)" />
<ellipse class="k" cx="2106.5" cy="1440.7" rx="4.2" ry="7.0" transform="rotate(-15 2106.5 1440.7)" />
<path class="kw" d="M 2058.4,1533.0 Q 2058.4,1523.7 2065.3,1521.4 L 2110.7,1506.3 Q 2121.2,1507.4 2122.3,1519.1 Q 2122.3,1529.5 2115.3,1531.9 L 2070.0,1544.7 Q 2059.5,1544.7 2058.4,1533.0 Z" />
<path class="g" d="M 2075.8,1531.9 L 2121.9,1516.7 Q 2122.3,1529.5 2115.3,1531.4 L 2070.0,1544.2 Q 2075.8,1540.0 2075.8,1531.9 Z" />
<ellipse class="mw" cx="2067.2" cy="1533.0" rx="8.8" ry="11.6" transform="rotate(-15 2067.2 1533.0)" />
<ellipse class="t" cx="2067.2" cy="1533.0" rx="3.3" ry="4.2" transform="rotate(-15 2067.2 1533.0)" />
<path class="kw" d="M 1965.3,1557.4 Q 1966.5,1545.8 1973.5,1543.5 L 2006.0,1533.0 L 2017.7,1537.7 L 2024.7,1534.2 Q 2034.0,1536.5 2035.1,1545.8 Q 2034.0,1555.1 2027.0,1557.4 L 2020.0,1557.4 L 2015.3,1567.9 L 1982.8,1578.4 Q 1971.2,1578.4 1966.5,1569.1 Z" />
<path class="g" d="M 1993.3,1562.1 L 2020.0,1554.0 L 2027.0,1557.0 L 2020.0,1557.4 L 2015.3,1567.4 L 1982.8,1577.9 Q 1993.3,1573.7 1993.3,1562.1 Z" />
<ellipse class="mw" cx="1980.5" cy="1560.9" rx="12.8" ry="16.7" transform="rotate(-15 1980.5 1560.9)" />
<ellipse class="m" cx="1980.5" cy="1560.9" rx="8.4" ry="11.2" transform="rotate(-15 1980.5 1560.9)" style="stroke-dasharray:3 1.2"/>
<path class="t" d="M 1992.1,1537.7 Q 2003.7,1550.5 1999.1,1572.6 M 1996.7,1536.0 Q 2008.4,1549.3 2003.7,1571.4 M 2006.0,1533.0 Q 2017.7,1545.8 2015.3,1567.9 M 2009.5,1534.2 Q 2020.5,1545.8 2018.1,1562.1 M 2017.7,1537.7 Q 2024.7,1545.8 2020.0,1557.4" />
<ellipse class="k" cx="1917.2" cy="1585.3" rx="19.5" ry="25.6" transform="rotate(-15 1917.2 1585.3)" style="stroke-width:9"/>
<ellipse class="k" cx="1917.2" cy="1585.3" rx="19.5" ry="25.6" transform="rotate(-15 1917.2 1585.3)" style="stroke:#fff;stroke-width:4.5"/>
<path class="kw" d="M2132.8,1337.7 C2135.1,1334.0 2139.6,1339.4 2144.4,1333.0 C2149.3,1326.6 2153.1,1306.5 2161.9,1299.3 C2170.6,1292.1 2185.5,1291.0 2196.7,1290.0 C2208.0,1289.0 2220.4,1291.7 2229.3,1293.5 C2238.2,1295.2 2245.6,1296.8 2250.2,1300.5 C2254.9,1304.1 2251.8,1308.4 2257.2,1315.6 C2262.6,1322.8 2277.0,1337.7 2282.8,1343.5 C2288.6,1349.3 2290.0,1347.4 2292.1,1350.5 C2294.2,1353.6 2296.0,1356.7 2295.6,1362.1 C2295.2,1367.5 2289.2,1374.9 2289.8,1383.0 C2290.3,1391.2 2297.3,1404.0 2299.1,1410.9 C2300.8,1417.9 2301.0,1420.6 2300.2,1424.9 C2299.5,1429.1 2297.5,1433.4 2294.4,1436.5 C2291.3,1439.6 2285.5,1438.4 2281.6,1443.5 C2277.8,1448.5 2276.4,1460.2 2271.2,1466.7 C2265.9,1473.3 2255.9,1479.5 2250.2,1483.0 C2244.6,1486.5 2243.3,1488.8 2237.4,1487.7 C2231.6,1486.5 2222.9,1476.8 2215.3,1476.0 C2207.8,1475.3 2198.3,1483.4 2192.1,1483.0 C2185.9,1482.6 2182.0,1478.8 2178.1,1473.7 C2174.3,1468.7 2172.7,1458.6 2168.8,1452.8 C2165.0,1447.0 2159.1,1443.1 2154.9,1438.8 C2150.6,1434.6 2146.4,1431.9 2143.3,1427.2 C2140.2,1422.6 2136.7,1419.1 2136.3,1410.9 C2135.9,1402.8 2141.9,1387.7 2140.9,1378.4 C2140.0,1369.1 2131.8,1361.9 2130.5,1355.1 C2129.1,1348.3 2130.5,1341.4 2132.8,1337.7 Z" />
<path class="g" d="M2229.3,1295.8 C2234.3,1292.1 2245.8,1299.1 2250.2,1302.8 C2254.7,1306.5 2250.8,1310.7 2256.0,1317.9 C2261.3,1325.1 2275.8,1340.0 2281.6,1345.8 C2287.4,1351.6 2289.0,1350.1 2290.9,1352.8 C2292.9,1355.5 2293.8,1357.1 2293.3,1362.1 C2292.7,1367.1 2286.9,1374.9 2287.4,1383.0 C2288.0,1391.2 2295.0,1404.0 2296.7,1410.9 C2298.5,1417.9 2298.7,1420.8 2297.9,1424.9 C2297.1,1429.0 2295.0,1432.6 2292.1,1435.3 C2289.2,1438.1 2284.1,1436.3 2280.5,1441.2 C2276.8,1446.0 2275.0,1457.8 2270.0,1464.4 C2265.0,1471.0 2255.7,1477.2 2250.2,1480.7 C2244.8,1484.2 2243.1,1486.5 2237.4,1485.3 C2231.8,1484.2 2223.7,1474.7 2216.5,1473.7 C2209.3,1472.8 2198.5,1480.7 2194.4,1479.5 C2190.3,1478.4 2186.7,1471.2 2192.1,1466.7 C2197.5,1462.3 2218.1,1460.5 2227.0,1452.8 C2235.9,1445.0 2242.1,1431.9 2245.6,1420.2 C2249.1,1408.6 2249.1,1395.0 2247.9,1383.0 C2246.7,1371.0 2243.3,1357.8 2238.6,1348.1 C2234.0,1338.4 2221.6,1333.6 2220.0,1324.9 C2218.4,1316.2 2224.3,1299.5 2229.3,1295.8 Z" />
<path class="w" d="M 2252.6,1366.7 L 2275.8,1352.8 L 2282.8,1371.4 L 2257.2,1385.3 Z M 2261.9,1429.5 L 2285.1,1422.6 L 2275.8,1438.8 L 2257.2,1443.5 Z" />
<path class="t" d="M2154.9,1348.1 C2159.5,1345.8 2172.7,1336.1 2182.8,1334.2 C2192.9,1332.2 2206.4,1332.2 2215.3,1336.5 C2224.3,1340.8 2231.8,1350.1 2236.3,1359.8 C2240.7,1369.5 2242.5,1383.8 2242.1,1394.7 C2241.7,1405.5 2238.8,1416.4 2234.0,1424.9 C2229.1,1433.4 2221.6,1441.6 2213.0,1445.8 C2204.5,1450.1 2192.5,1451.6 2182.8,1450.5 C2173.1,1449.3 2159.5,1440.8 2154.9,1438.8" />
<path class="kw" d="M 2154.9,1366.7 L 2192.1,1355.1 Q 2224.7,1357.4 2229.3,1394.7 Q 2227.0,1429.5 2196.7,1436.5 L 2168.8,1442.3 Z" />
<path class="g" d="M 2173.5,1399.3 L 2228.8,1383.0 Q 2230.5,1420.2 2196.7,1436.0 L 2168.8,1441.9 Q 2192.1,1429.5 2194.4,1406.3 Z" />
<ellipse class="kw" cx="2166.5" cy="1404.0" rx="27.9" ry="38.4" transform="rotate(-8 2166.5 1404.0)" />
<ellipse class="t" cx="2167.0" cy="1404.0" rx="25.1" ry="35.3" transform="rotate(-8 2167.0 1404.0)" />
<ellipse class="m" cx="2168.1" cy="1404.4" rx="22.1" ry="32.1" transform="rotate(-8 2168.1 1404.4)" />
<path class="g" d="M 2146.7,1410.9 Q 2168.8,1406.3 2189.8,1397.0 Q 2192.1,1420.2 2178.1,1431.9 Q 2157.2,1438.8 2146.7,1410.9 Z" />
<ellipse class="t" cx="2186.3" cy="1399.3" rx="10.5" ry="25.6" transform="rotate(-8 2186.3 1399.3)" />
<path class="t" d="M 2168.8,1301.6 L 2171.2,1297.0 M 2182.8,1327.2 L 2192.1,1324.9 M 2257.2,1350.5 L 2261.9,1348.1 M 2245.6,1399.3 L 2246.0,1406.3 M 2271.2,1416.7 L 2275.8,1417.9 M 2192.1,1462.1 L 2201.4,1460.9 M 2215.3,1466.7 L 2220.0,1473.7 M 2150.2,1329.5 L 2149.1,1336.5 M 2227.0,1309.8 L 2225.8,1315.6" />
</g>
<g id="bottom">
<path class="kw" d="M 1884.2,2163.0 L 1897.0,2167.7 L 1897.0,2218.8 L 1884.2,2218.8 Z" />
<path class="t" d="M 1886.5,2167.7 L 1886.5,2216.5 M 1895.3,2168.8 L 1895.3,2217.7" />
<path class="kw" d="M 1886.5,2260.7 L 1955.1,2260.7 L 1955.1,2274.7 L 1886.5,2274.7 Z" />
<path class="g" d="M 1905.1,2261.2 L 1955.1,2261.2 L 1955.1,2274.2 L 1886.5,2274.2 L 1905.1,2267.7 Z" />
<path class="t" d="M 1906.3,2263.5 L 1955.1,2263.5 M 1898.1,2271.9 L 1955.1,2271.9" />
<path class="kw" d="M 1960.9,2158.4 L 1970.2,2153.7 L 1976.0,2179.3 L 1966.7,2184.0 Z" />
<path class="t" d="M 1964.4,2159.5 L 1969.1,2182.8" />
<path class="kw" d="M 1863.3,1991.9 Q 1900.5,1981.4 1938.8,1980.2 L 1941.2,1983.7 L 1950.5,2043.0 L 1954.0,2044.2 L 1957.4,2062.8 L 1872.6,2076.7 L 1869.8,2059.3 L 1874.9,2057.0 Z" />
<path class="t" d="M 1874.9,2051.2 Q 1912.1,2041.9 1949.3,2041.9 M 1875.3,2054.0 Q 1912.6,2044.7 1950.2,2044.7 M 1872.6,2060.5 Q 1909.8,2051.2 1954.4,2048.8 M 1870.2,1997.7 L 1878.4,2048.8 M 1934.2,1983.7 L 1943.5,2039.5" />
<path class="kw" d="M 1966.7,2184.0 L 1974.9,2180.5 L 1998.1,2180.5 L 2001.6,2185.1 L 2036.5,2185.1 L 2044.7,2193.3 L 2044.7,2294.4 L 2036.5,2302.6 L 2001.6,2302.6 L 1997.0,2307.2 L 1962.1,2307.2 L 1954.0,2293.3 L 1955.1,2195.6 Z" />
<path class="g" d="M 1954.4,2264.2 Q 2000.5,2267.7 2044.2,2264.2 L 2044.2,2294.0 L 2036.5,2302.1 L 2001.6,2302.1 L 1997.0,2306.7 L 1962.1,2306.7 L 1954.4,2293.3 Z" />
<path class="t" d="M 1962.1,2187.4 L 1962.1,2306.7 M 1964.9,2186.3 L 1964.9,2306.7 M 1994.2,2181.2 L 1994.2,2306.7 M 1997.0,2181.2 L 1997.0,2306.7 M 2000.5,2185.1 L 2000.5,2302.6 M 2002.8,2185.1 L 2002.8,2302.6 M 2034.2,2185.6 L 2034.2,2302.1 M 2036.5,2185.6 L 2036.5,2302.1" />
<path class="k" d="M 1998.1,2180.5 L 1998.1,2306.7" />
<ellipse class="kw" cx="1922.6" cy="2114.0" rx="64.0" ry="63.3" />
<ellipse class="t" cx="1922.6" cy="2114.0" rx="60.9" ry="60.0" />
<ellipse class="m" cx="1921.4" cy="2115.8" rx="46.0" ry="45.3" />
<ellipse class="t" cx="1921.4" cy="2116.3" rx="44.2" ry="43.0" />
<ellipse class="kw" cx="1921.4" cy="2117.4" rx="41.4" ry="39.5" />
<ellipse class="kw" cx="1883.5" cy="2243.3" rx="28.4" ry="29.1" />
<ellipse class="t" cx="1883.5" cy="2243.3" rx="25.1" ry="26.0" />
<ellipse class="t" cx="1884.2" cy="2241.6" rx="16.7" ry="17.4" />
<ellipse class="k" cx="1885.3" cy="2244.0" rx="15.1" ry="11.6" transform="rotate(-8 1885.3 2244.0)" style="fill:#fff;stroke-width:3.5"/>
<clipPath id="hw33"><path class="kw" d="M 2126.0,1903.5 L 2167.9,1903.5 L 2181.9,1923.3 L 2188.8,1946.5 L 2191.2,1993.0 L 2191.2,2104.7 L 2188.8,2151.2 L 2180.7,2176.7 L 2167.9,2194.2 L 2124.9,2194.2 L 2112.1,2176.7 L 2102.8,2155.8 L 2100.0,2132.6 L 2100.0,1993.0 L 2102.8,1946.5 L 2112.1,1923.3 Z" /></clipPath>
<path class="kw" d="M 2126.0,1903.5 L 2167.9,1903.5 L 2181.9,1923.3 L 2188.8,1946.5 L 2191.2,1993.0 L 2191.2,2104.7 L 2188.8,2151.2 L 2180.7,2176.7 L 2167.9,2194.2 L 2124.9,2194.2 L 2112.1,2176.7 L 2102.8,2155.8 L 2100.0,2132.6 L 2100.0,1993.0 L 2102.8,1946.5 L 2112.1,1923.3 Z" />
<path class="g" d="M 2100.5,2067.4 Q 2142.3,2048.8 2190.7,2067.4 L 2190.7,2104.7 L 2188.4,2151.2 L 2180.2,2176.3 L 2167.4,2193.5 L 2125.3,2193.5 L 2112.6,2176.3 L 2103.3,2155.8 L 2100.5,2132.6 Z" />
<path class="w" d="M 2126.0,2062.8 L 2163.3,2062.8 L 2163.3,2090.7 L 2126.0,2090.7 Z M 2102.8,2123.3 Q 2142.3,2134.9 2188.8,2123.3 L 2188.4,2130.2 Q 2142.3,2141.9 2103.3,2130.2 Z" />
<g clip-path="url(#hw33)"><path class="t" d="M 2101.6,1920.0 Q 2144.7,1912.6 2190.0,1920.0 M 2101.6,1934.9 Q 2144.7,1925.6 2190.0,1934.9 M 2101.6,1955.3 Q 2144.7,1942.3 2190.0,1955.3 M 2101.6,1970.0 Q 2144.7,1953.3 2190.0,1970.0 M 2101.6,1990.7 Q 2144.7,1990.7 2190.0,1990.7 M 2101.6,2024.0 Q 2144.7,2024.0 2190.0,2024.0 M 2101.6,2028.6 Q 2144.7,2028.6 2190.0,2028.6 M 2101.6,2057.7 Q 2144.7,2044.7 2190.0,2057.7 M 2101.6,2062.3 Q 2144.7,2049.3 2190.0,2062.3 M 2101.6,2089.5 Q 2144.7,2089.5 2190.0,2089.5 M 2101.6,2095.3 Q 2144.7,2095.3 2190.0,2095.3 M 2101.6,2126.0 Q 2144.7,2126.0 2190.0,2126.0 M 2101.6,2138.6 Q 2144.7,2138.6 2190.0,2138.6 M 2101.6,2155.6 Q 2144.7,2155.6 2190.0,2155.6 M 2101.6,2159.1 Q 2144.7,2159.1 2190.0,2159.1 M 2101.6,2175.8 Q 2144.7,2175.8 2190.0,2175.8 M 2101.6,2182.8 Q 2144.7,2182.8 2190.0,2182.8" />
<path class="t" d="M 2122.6,1914.0 L 2122.6,2188.4 M 2126.0,1914.0 L 2126.0,2188.4 M 2163.3,1914.0 L 2163.3,2188.4 M 2166.7,1914.0 L 2166.7,2188.4 M 2112.1,1976.7 L 2124.9,1990.7 M 2165.6,1990.7 L 2177.2,2016.3 M 2112.1,2067.4 L 2124.9,2090.7 M 2165.6,2090.7 L 2181.9,2072.1" /></g>
<path class="k" d="M 2126.0,1903.5 L 2167.9,1903.5 L 2181.9,1923.3 L 2188.8,1946.5 L 2191.2,1993.0 L 2191.2,2104.7 L 2188.8,2151.2 L 2180.7,2176.7 L 2167.9,2194.2 L 2124.9,2194.2 L 2112.1,2176.7 L 2102.8,2155.8 L 2100.0,2132.6 L 2100.0,1993.0 L 2102.8,1946.5 L 2112.1,1923.3 Z" style="stroke-width:3"/>
<path class="kw" d="M 2188.8,1993.0 L 2242.3,1993.0 L 2248.1,1998.8 L 2256.3,1998.8 L 2256.3,2098.8 L 2248.1,2098.8 L 2242.3,2104.7 L 2188.8,2104.7 Z" />
<path class="g" d="M 2189.3,2068.6 Q 2223.7,2066.3 2255.8,2064.0 L 2255.8,2098.4 L 2248.1,2098.4 L 2242.3,2104.2 L 2189.3,2104.2 Z" />
<path class="t" d="M 2242.3,1993.0 L 2242.3,2104.7 M 2248.1,1998.8 L 2248.1,2098.8 M 2245.8,1996.5 L 2245.8,2101.2" />
<path class="kw" d="M 2312.1,2032.6 Q 2312.1,2026.7 2318.1,2026.7 Q 2324.2,2026.7 2324.2,2032.6 L 2324.2,2064.0 Q 2324.2,2069.8 2318.1,2069.8 Q 2312.1,2069.8 2312.1,2064.0 Z" />
<path class="g" d="M 2313.0,2054.7 L 2323.3,2054.7 L 2323.3,2064.0 Q 2323.3,2068.8 2318.1,2068.8 Q 2313.0,2068.8 2313.0,2064.0 Z" />
<path class="kw" d="M 2355.1,2018.6 L 2371.6,2018.6 L 2371.6,2079.1 L 2355.1,2079.1 Z" />
<path class="kw" d="M 2371.6,2009.3 L 2560.0,2009.3 L 2560.0,2087.2 L 2371.6,2087.2 Z" />
<path class="g" d="M 2372.1,2064.0 Q 2464.7,2060.5 2559.5,2062.8 L 2559.5,2086.7 L 2372.1,2086.7 Z M 2355.6,2064.0 L 2371.2,2064.0 L 2371.2,2078.6 L 2355.6,2078.6 Z" />
<path class="kw" d="M 2563.5,1999.5 L 2590.2,1999.5 Q 2594.9,2000.0 2594.9,2004.7 L 2594.9,2093.0 Q 2594.9,2097.7 2590.2,2097.7 L 2563.5,2097.7 Q 2558.8,2097.7 2558.8,2093.0 L 2558.8,2004.7 Q 2558.8,1999.5 2563.5,1999.5 Z" />
<path class="g" d="M 2559.5,2070.9 L 2594.4,2070.9 L 2594.4,2093.0 Q 2594.4,2097.2 2590.2,2097.2 L 2563.5,2097.2 Q 2559.5,2097.2 2559.5,2093.0 Z" />
<path class="t" d="M 2562.3,2020.9 L 2591.4,2020.9 M 2560.0,2037.2 L 2593.7,2037.2 M 2560.0,2069.8 L 2593.7,2069.8 M 2562.3,2083.7 L 2591.4,2083.7 M 2562.3,2002.3 L 2562.3,2020.9 L 2559.5,2037.2 L 2559.5,2069.8 L 2562.3,2083.7 L 2562.3,2095.3 M 2591.4,2002.3 L 2591.4,2020.9 L 2593.7,2037.2 L 2593.7,2069.8 L 2591.4,2083.7 L 2591.4,2095.3 M 2369.3,2011.6 L 2369.3,2086.0" />
<path class="kw" d="M 2622.8,2031.4 L 2721.6,2031.4 L 2721.6,2065.6 L 2622.8,2065.6 Z" />
<path class="g" d="M 2623.5,2055.3 L 2720.9,2054.0 L 2720.9,2064.9 L 2623.5,2064.9 Z" />
<path class="kw" d="M 2765.8,2016.3 Q 2765.8,2009.3 2772.8,2009.3 Q 2779.8,2009.3 2779.8,2016.3 L 2779.8,2080.2 Q 2779.8,2087.2 2772.8,2087.2 Q 2765.8,2087.2 2765.8,2080.2 Z" style="stroke-width:3"/>
<path class="g" d="M 2767.0,2062.8 L 2778.6,2062.8 L 2778.6,2080.2 Q 2778.6,2086.0 2772.8,2086.0 Q 2767.0,2086.0 2767.0,2080.2 Z" />
<path class="kw" d="M 2801.9,2048.1 L 2811.2,2041.9 L 2811.2,2029.1 L 2821.6,2029.1 Q 2832.1,2034.9 2839.1,2029.1 L 2844.9,2029.1 L 2844.9,2067.9 L 2839.1,2067.9 Q 2829.8,2062.8 2821.6,2067.9 L 2811.2,2067.9 L 2811.2,2054.7 Z" />
<path class="kw" d="M 2894.9,2024.4 L 2910.0,2024.4 L 2910.0,2073.3 L 2894.9,2073.3 Z" />
<path class="kw" d="M 2846.0,2021.4 L 2857.7,2021.4 L 2857.7,2019.1 L 2872.8,2019.1 L 2872.8,2021.4 L 2891.4,2021.4 L 2891.4,2019.1 L 2894.9,2019.1 L 2894.9,2077.9 L 2891.4,2077.9 L 2891.4,2075.6 L 2872.8,2075.6 L 2872.8,2077.9 L 2857.7,2077.9 L 2857.7,2075.6 L 2846.0,2075.6 Z" />
<path class="g" d="M 2811.6,2058.1 L 2844.4,2058.1 L 2844.4,2067.4 L 2811.6,2067.4 Z M 2846.5,2059.3 L 2894.4,2058.1 L 2894.4,2075.1 L 2846.5,2075.1 Z M 2895.3,2058.1 L 2909.5,2057.7 L 2909.5,2072.8 L 2895.3,2072.8 Z" />
<path class="t" d="M 2848.4,2021.4 L 2848.4,2075.6 M 2855.8,2021.4 L 2855.8,2075.6 M 2857.7,2019.8 L 2857.7,2077.2 M 2860.0,2019.8 L 2860.0,2077.2 M 2872.8,2019.8 L 2872.8,2077.2 M 2875.1,2021.4 L 2875.1,2075.6 M 2887.4,2021.4 L 2887.4,2075.6 M 2891.4,2019.8 L 2891.4,2077.2" />
<path class="mw" d="M 1615.8,1121.8 Q 1645.7,1114.3 1679.3,1123.0 L 1679.3,1128.0 L 1671.8,1130.5 L 1661.9,1133.0 L 1664.4,1167.9 L 1661.9,1170.3 L 1661.9,1184.1 L 1624.5,1185.3 L 1624.5,1170.3 L 1622.0,1166.6 L 1623.3,1133.0 L 1615.8,1128.0 Z" />
<path class="g" d="M 1650.7,1124.3 L 1660.6,1124.3 L 1663.6,1167.9 L 1661.1,1184.1 L 1651.9,1184.1 Z" />
<path class="t" d="M 1623.3,1133.0 L 1661.9,1133.0 M 1625.7,1124.3 L 1627.0,1146.7 L 1634.5,1147.9 L 1635.7,1124.3 M 1645.7,1123.0 L 1646.9,1146.7 L 1654.4,1146.7 L 1656.9,1124.3 M 1622.0,1167.9 L 1664.4,1167.9 M 1624.5,1170.3 L 1661.9,1170.3 M 1615.8,1128.0 Q 1645.7,1134.2 1679.3,1128.0" />
<path class="mw" d="M 1627.0,1184.1 L 1627.0,1189.0 L 1658.1,1189.0 L 1658.1,1184.1 M 1625.7,1190.3 Q 1618.3,1199.0 1613.3,1210.2 M 1659.4,1190.3 Q 1668.1,1199.0 1674.3,1210.2" style="fill:none"/>
<path class="t" d="M 1633.2,1191.5 L 1630.7,1210.2 M 1651.9,1191.5 L 1655.6,1210.2 M 1623.3,1199.0 Q 1643.2,1194.0 1665.6,1199.0" style="stroke:#999"/>
<path class="m" d="M1623.3,1146.7 C1620.8,1147.7 1611.2,1150.2 1608.3,1152.9 C1605.4,1155.6 1602.5,1159.8 1605.8,1162.9 C1609.1,1166.0 1619.9,1166.8 1628.2,1171.6 C1636.5,1176.4 1647.8,1186.8 1655.6,1191.5 C1663.5,1196.3 1672.3,1198.8 1675.6,1200.2" style="stroke-width:6"/>
<path class="m" d="M1623.3,1146.7 C1620.8,1147.7 1611.2,1150.2 1608.3,1152.9 C1605.4,1155.6 1602.5,1159.8 1605.8,1162.9 C1609.1,1166.0 1619.9,1166.8 1628.2,1171.6 C1636.5,1176.4 1647.8,1186.8 1655.6,1191.5 C1663.5,1196.3 1672.3,1198.8 1675.6,1200.2" style="stroke:#fff;stroke-width:3.4"/>
<path class="kw" d="M 1301.5,2302.5 L 1301.5,2319.0 L 1361.0,2319.0 L 1361.0,2302.5 M 1298.0,2302.5 L 1366.0,2302.5 L 1366.0,2287.5 Q 1362.5,2272.5 1354.0,2267.5 L 1354.0,2260.0 Q 1350.0,2254.0 1345.0,2254.0 L 1317.5,2254.0 Q 1311.0,2254.0 1310.0,2261.0 L 1310.0,2267.5 Q 1300.0,2272.5 1298.0,2287.5 Z" style="stroke-width:2.8"/>
<path class="kw" d="M 1321.5,2232.5 Q 1321.5,2229.0 1325.0,2229.0 L 1339.0,2229.0 Q 1342.5,2229.0 1342.5,2232.5 L 1337.5,2235.0 L 1337.5,2254.0 L 1327.5,2254.0 L 1327.5,2235.0 Z" style="stroke-width:2.5"/>
</g>
<g id="callouts">
<path class="lh" d="M54,710 L751,710"/><path class="ll" d="M54,710 L751,710"/>
<path class="lh" d="M54,777 L819.6,777"/><path class="ll" d="M54,777 L819.6,777"/>
<path class="ll" d="M55,1035 L232.5,1035"/>
<path class="lh" d="M82,1688 L492.5,1688"/><path class="ll" d="M82,1688 L492.5,1688"/>
<path class="lh" d="M77.5,1852.5 L452.5,1727.5"/><path class="ll" d="M77.5,1852.5 L452.5,1727.5"/>
<path class="ll" d="M1163.5,2290.5 L1332.5,2290.5"/>
<path class="ll" d="M1331.5,2243.5 L1498,2243.5"/>
<path class="lh" d="M866,924.5 L1614.5,925.5"/><path class="ll" d="M866,924.5 L1614.5,925.5"/>
<path class="lh" d="M863.5,991.3 L1613,992.5"/><path class="ll" d="M863.5,991.3 L1613,992.5"/>
<path class="ll" d="M1640,1019 L1640,1152.5"/>
<path class="ll" d="M1338,1770 L1338,2185"/>
<path class="t" d="M674.3,631 L751,703.6 M807.5,807.5 L655,1045 M461,1601 L495,1682.5 M1330.5,1646.5 L1287.5,1702.5" style="stroke-width:1.5"/>
<circle cx="27.5" cy="711.5" r="26.5" fill="#fff" stroke="#000" stroke-width="2"/>
<text x="27.5" y="723.7" font-size="34" text-anchor="middle">1</text>
<circle cx="27.5" cy="777.5" r="26.5" fill="#fff" stroke="#000" stroke-width="2"/>
<text x="27.5" y="789.7" font-size="34" text-anchor="middle">2</text>
<circle cx="28.5" cy="1035" r="26.5" fill="#fff" stroke="#000" stroke-width="2"/>
<text x="28.5" y="1047.2" font-size="34" text-anchor="middle">3</text>
<circle cx="55" cy="1689" r="26.5" fill="#fff" stroke="#000" stroke-width="2"/>
<text x="55" y="1701.2" font-size="34" text-anchor="middle">4</text>
<circle cx="52.5" cy="1856" r="26.5" fill="#fff" stroke="#000" stroke-width="2"/>
<text x="52.5" y="1868.2" font-size="34" text-anchor="middle">5</text>
<circle cx="1136.5" cy="2290" r="26.5" fill="#fff" stroke="#000" stroke-width="2"/>
<text x="1136.5" y="2302.2" font-size="34" text-anchor="middle">6</text>
<circle cx="1525" cy="2243.5" r="26.5" fill="#fff" stroke="#000" stroke-width="2"/>
<text x="1525" y="2255.7" font-size="34" text-anchor="middle">7</text>
<circle cx="1641.5" cy="926" r="26.5" fill="#fff" stroke="#000" stroke-width="2"/>
<text x="1641.5" y="938.2" font-size="34" text-anchor="middle">8</text>
<circle cx="1640" cy="992.5" r="27" fill="#fff" stroke="#000" stroke-width="2"/>
<text x="1640" y="1004.7" font-size="34" text-anchor="middle">31</text>
<text x="548" y="609" font-size="36" textLength="156" lengthAdjust="spacingAndGlyphs">Einsteck-</text>
<text x="548" y="654" font-size="36" textLength="105" lengthAdjust="spacingAndGlyphs">pfeife*</text>
<text x="571.5" y="1078.5" font-size="36" textLength="321" lengthAdjust="spacingAndGlyphs">Pendelventilinsatz*</text>
<text x="286" y="1580" font-size="36" textLength="202.5" lengthAdjust="spacingAndGlyphs">Entlüftungs-</text>
<text x="286" y="1627.5" font-size="36" textLength="101" lengthAdjust="spacingAndGlyphs">ventil*</text>
<text x="1290" y="1584" font-size="36" textLength="203" lengthAdjust="spacingAndGlyphs">Entlüftungs-</text>
<text x="1290" y="1630" font-size="36" textLength="101" lengthAdjust="spacingAndGlyphs">ventil*</text>
<text x="293" y="2133.5" font-size="36">*</text>
<text x="332.5" y="2133.5" font-size="36" textLength="277.5" lengthAdjust="spacingAndGlyphs">Siehe Bild unten</text>
<text x="3335.5" y="31" font-size="34" textLength="174" lengthAdjust="spacingAndGlyphs">2025-09-05</text>
<path class="t" d="M1995.5,288 L2110,288 M2692.7,160.7 L2811.6,160.7 M2296.5,1472.5 L2284,1427.5 M2086.5,1381 L2104,1435 M1961.5,1413.5 L1980,1465 M2121.5,1522.5 L2146.5,1527.5 M2115,1558.5 L2098,1530 M2044,1580 L2024,1547.5 M1952.5,1612.5 L1935,1595 M1891.5,1612.5 L1904,1597.5 M2430.5,1565 L2415,1512 M2519,1013.5 L2430.5,1028.5 M2514,935 L2450.5,979 M2319,769 L2371.5,777.5 M2732,748.5 L2668,795 M2980.5,1216.5 L2935.5,1266.5 M2980.5,1216.5 L3017,1288.5 M2980.5,1216.5 L2944,1381 M2980.5,1216.5 L2989.5,1420 M2816.5,1255 L2786.5,1290 M2816.5,1255 L2865.5,1319 M2676.5,1599 L2688,1570 M2591.5,1586.5 L2605.5,1545 M2810.5,1081 L2748,1124 M2690.5,1082.5 L2671.5,1140 M2223,1959.5 L2223,2045 M2335,1980 L2320,2039 M2478,1978.5 L2463,2036 M2626.5,1982.5 L2649.5,2045 M2665.5,1986.5 L2660.5,2045 M2748,1965 L2775.5,2024 M2809,1964 L2773,2062.5 M2889.5,1964 L2888,2049 M2005.5,1005 L2063,1051 M2072.5,1161.5 L2110,1180 M2219,1177.5 L2200.5,1190 M2589,1095 L2571.5,1152.5 M2713,1210 L2652,1201 M2733,1265 L2698,1300" style="stroke-width:1.7"/>
<circle cx="1964" cy="292.5" r="31" fill="#fff" stroke="#000" stroke-width="2"/>
<text x="1964" y="306.1" font-size="38" text-anchor="middle">9</text>
<circle cx="2661" cy="159.7" r="31" fill="#fff" stroke="#000" stroke-width="2"/>
<text x="2661" y="173.3" font-size="38" text-anchor="middle">10</text>
<circle cx="1947.5" cy="1270" r="31" fill="#fff" stroke="#000" stroke-width="2"/>
<text x="1947.5" y="1283.6" font-size="38" text-anchor="middle">11</text>
<circle cx="2305.5" cy="1502.5" r="31" fill="#fff" stroke="#000" stroke-width="2"/>
<text x="2305.5" y="1516.1" font-size="38" text-anchor="middle">12</text>
<circle cx="2080" cy="1350" r="31" fill="#fff" stroke="#000" stroke-width="2"/>
<text x="2080" y="1363.6" font-size="38" text-anchor="middle">13</text>
<circle cx="1955" cy="1382.5" r="31" fill="#fff" stroke="#000" stroke-width="2"/>
<text x="1955" y="1396.1" font-size="38" text-anchor="middle">14</text>
<circle cx="2128" cy="1586.5" r="31" fill="#fff" stroke="#000" stroke-width="2"/>
<text x="2128" y="1600.1" font-size="38" text-anchor="middle">16</text>
<circle cx="2057" cy="1607.5" r="31" fill="#fff" stroke="#000" stroke-width="2"/>
<text x="2057" y="1621.1" font-size="38" text-anchor="middle">17</text>
<circle cx="1864" cy="1622.5" r="31" fill="#fff" stroke="#000" stroke-width="2"/>
<text x="1864" y="1636.1" font-size="38" text-anchor="middle">19</text>
<circle cx="2436.5" cy="1595" r="31" fill="#fff" stroke="#000" stroke-width="2"/>
<text x="2436.5" y="1608.6" font-size="38" text-anchor="middle">20</text>
<circle cx="2548" cy="1000" r="31" fill="#fff" stroke="#000" stroke-width="2"/>
<text x="2548" y="1013.6" font-size="38" text-anchor="middle">21</text>
<circle cx="2539.5" cy="918.5" r="31" fill="#fff" stroke="#000" stroke-width="2"/>
<text x="2539.5" y="932.1" font-size="38" text-anchor="middle">22</text>
<circle cx="2288" cy="765" r="31" fill="#fff" stroke="#000" stroke-width="2"/>
<text x="2288" y="778.6" font-size="38" text-anchor="middle">23</text>
<circle cx="2759.5" cy="733.5" r="31" fill="#fff" stroke="#000" stroke-width="2"/>
<text x="2759.5" y="747.1" font-size="38" text-anchor="middle">24</text>
<circle cx="2980.5" cy="1186.5" r="31" fill="#fff" stroke="#000" stroke-width="2"/>
<text x="2980.5" y="1200.1" font-size="38" text-anchor="middle">25</text>
<circle cx="2816.5" cy="1223.5" r="31" fill="#fff" stroke="#000" stroke-width="2"/>
<text x="2816.5" y="1237.1" font-size="38" text-anchor="middle">26</text>
<circle cx="2670.5" cy="1629" r="31" fill="#fff" stroke="#000" stroke-width="2"/>
<text x="2670.5" y="1642.6" font-size="38" text-anchor="middle">27</text>
<circle cx="2579.5" cy="1617.5" r="31" fill="#fff" stroke="#000" stroke-width="2"/>
<text x="2579.5" y="1631.1" font-size="38" text-anchor="middle">28</text>
<circle cx="2838.5" cy="1068.5" r="31" fill="#fff" stroke="#000" stroke-width="2"/>
<text x="2838.5" y="1082.1" font-size="38" text-anchor="middle">29</text>
<circle cx="2705.5" cy="1055" r="31" fill="#fff" stroke="#000" stroke-width="2"/>
<text x="2705.5" y="1068.6" font-size="38" text-anchor="middle">30</text>
<circle cx="2347" cy="2337.5" r="31" fill="#fff" stroke="#000" stroke-width="2"/>
<text x="2347" y="2351.1" font-size="38" text-anchor="middle">32</text>
<circle cx="2223" cy="1928.5" r="31" fill="#fff" stroke="#000" stroke-width="2"/>
<text x="2223" y="1942.1" font-size="38" text-anchor="middle">33</text>
<circle cx="2344" cy="1949" r="31" fill="#fff" stroke="#000" stroke-width="2"/>
<text x="2344" y="1962.6" font-size="38" text-anchor="middle">34</text>
<circle cx="2491.5" cy="1947.5" r="31" fill="#fff" stroke="#000" stroke-width="2"/>
<text x="2491.5" y="1961.1" font-size="38" text-anchor="middle">35</text>
<circle cx="2678" cy="1956" r="31" fill="#fff" stroke="#000" stroke-width="2"/>
<text x="2678" y="1969.6" font-size="38" text-anchor="middle">37</text>
<circle cx="2811.5" cy="1933" r="31" fill="#fff" stroke="#000" stroke-width="2"/>
<text x="2811.5" y="1946.6" font-size="38" text-anchor="middle">39</text>
<circle cx="2889.5" cy="1933" r="31" fill="#fff" stroke="#000" stroke-width="2"/>
<text x="2889.5" y="1946.6" font-size="38" text-anchor="middle">40</text>
<circle cx="2176.5" cy="1532" r="31" fill="#ffff00" stroke="#000" stroke-width="2"/>
<text x="2176.5" y="1545.6" font-size="38" text-anchor="middle">15</text>
<circle cx="1977" cy="1629" r="31" fill="#ffff00" stroke="#000" stroke-width="2"/>
<text x="1977" y="1642.6" font-size="38" text-anchor="middle">18</text>
<circle cx="2604.5" cy="1956.5" r="31" fill="#5fc000" stroke="#000" stroke-width="2"/>
<text x="2604.5" y="1970.1" font-size="38" text-anchor="middle">36</text>
<circle cx="2742.5" cy="1932.5" r="31" fill="#5fc000" stroke="#000" stroke-width="2"/>
<text x="2742.5" y="1946.1" font-size="38" text-anchor="middle">38</text>
<text x="1992.5" y="1016.5" font-size="38" text-anchor="middle">*</text>
<text x="2062" y="1176.5" font-size="38" text-anchor="middle">*</text>
<text x="2228" y="1191.5" font-size="38" text-anchor="middle">*</text>
<text x="2593.5" y="1104" font-size="38" text-anchor="middle">*</text>
<text x="2722.5" y="1234" font-size="38" text-anchor="middle">*</text>
<text x="2739" y="1275.5" font-size="38" text-anchor="middle">*</text>
<text x="2497.7" y="216" font-size="38" text-anchor="middle">*</text>
<text x="2570" y="217.6" font-size="38" text-anchor="middle">*</text>
<text x="2637" y="217.6" font-size="38" text-anchor="middle">*</text>
<text x="2123" y="262" font-size="38" textLength="151" lengthAdjust="spacingAndGlyphs" font-weight="bold">GÜH Satz</text>
<text x="2123" y="306" font-size="38" textLength="184" lengthAdjust="spacingAndGlyphs">Anschlüsse</text>
<text x="2123" y="350" font-size="38" textLength="133" lengthAdjust="spacingAndGlyphs">300 bar,</text>
<text x="2123" y="396" font-size="38" textLength="134" lengthAdjust="spacingAndGlyphs">handrad</text>
<text x="2825" y="159.7" font-size="38" textLength="151" lengthAdjust="spacingAndGlyphs" font-weight="bold">GÜH Satz</text>
<text x="2825" y="204.6" font-size="38" textLength="168" lengthAdjust="spacingAndGlyphs">HP1 Panel,</text>
<text x="2825" y="249.4" font-size="38" textLength="133" lengthAdjust="spacingAndGlyphs">300 bar,</text>
<text x="2825" y="294.3" font-size="38" textLength="136" lengthAdjust="spacingAndGlyphs">Handrad</text>
<text x="1893" y="689" font-size="37.5" textLength="250" lengthAdjust="spacingAndGlyphs">300 bar Version</text>
<text x="1878" y="729" font-size="37.5" textLength="278.5" lengthAdjust="spacingAndGlyphs">”Originalversion”</text>
<text x="2490.5" y="2173.5" font-size="37.5" textLength="271.5" lengthAdjust="spacingAndGlyphs">Standard version</text>
<text x="2459.5" y="2213.5" font-size="37.5" textLength="334.5" lengthAdjust="spacingAndGlyphs">”Handradanschluss”</text>
</g>
</svg>
</body></html>
